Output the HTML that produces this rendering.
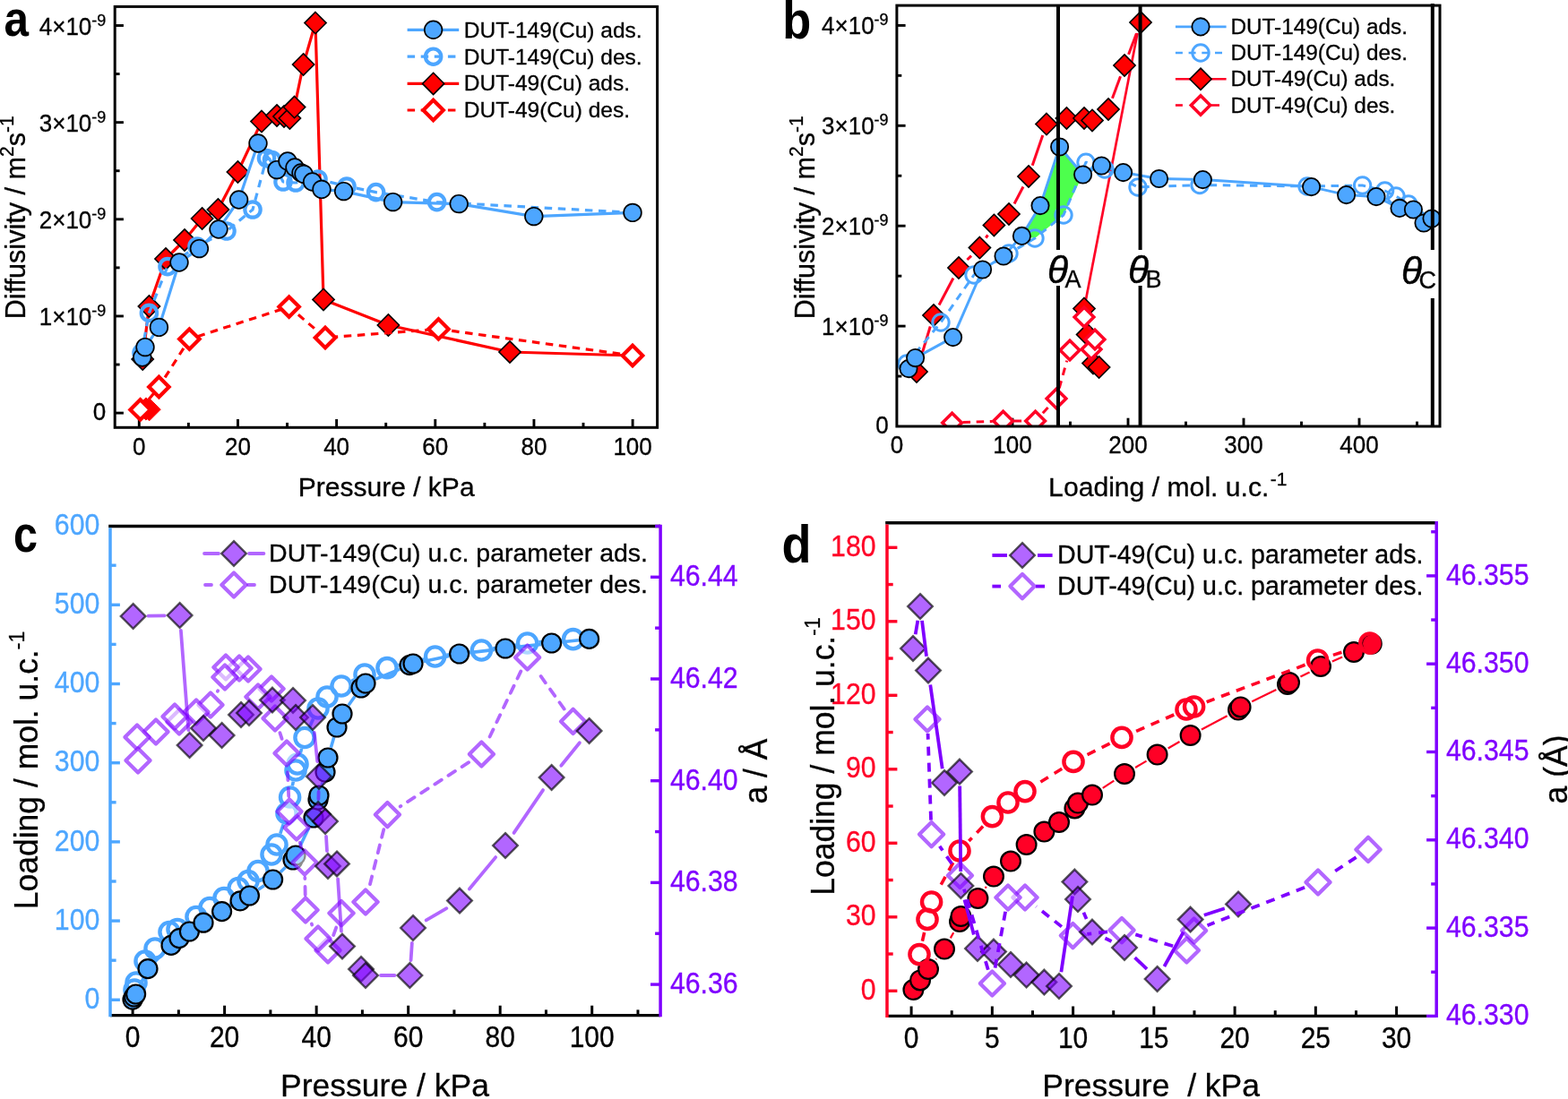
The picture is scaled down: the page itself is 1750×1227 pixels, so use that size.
<!DOCTYPE html>
<html lang="en">
<head>
<meta charset="utf-8">
<title>Diffusivity and loading of DUT-149(Cu) and DUT-49(Cu)</title>
<style>
html,body{margin:0;padding:0;background:#fff;}
body{width:1750px;height:1227px;overflow:hidden;}
svg{display:block;font-family:"Liberation Sans", Arial, Helvetica, sans-serif;}
text{white-space:pre;}
</style>
</head>
<body>
<svg width="1750" height="1227" viewBox="0 0 1750 1227">
<rect x="0" y="0" width="1750" height="1227" fill="#ffffff"/>
<g id="panel-a">
<line x1="128.2" y1="461.1" x2="137.9" y2="461.1" stroke="#000" stroke-width="2.9" />
<line x1="128.2" y1="407.03" x2="133.6" y2="407.03" stroke="#000" stroke-width="2.9" />
<line x1="128.2" y1="352.95" x2="137.9" y2="352.95" stroke="#000" stroke-width="2.9" />
<line x1="128.2" y1="298.88" x2="133.6" y2="298.88" stroke="#000" stroke-width="2.9" />
<line x1="128.2" y1="244.8" x2="137.9" y2="244.8" stroke="#000" stroke-width="2.9" />
<line x1="128.2" y1="190.73" x2="133.6" y2="190.73" stroke="#000" stroke-width="2.9" />
<line x1="128.2" y1="136.65" x2="137.9" y2="136.65" stroke="#000" stroke-width="2.9" />
<line x1="128.2" y1="82.57" x2="133.6" y2="82.57" stroke="#000" stroke-width="2.9" />
<line x1="128.2" y1="28.5" x2="137.9" y2="28.5" stroke="#000" stroke-width="2.9" />
<line x1="155.3" y1="477.3" x2="155.3" y2="468" stroke="#000" stroke-width="2.9" />
<line x1="210.38" y1="477.3" x2="210.38" y2="471.9" stroke="#000" stroke-width="2.9" />
<line x1="265.46" y1="477.3" x2="265.46" y2="468" stroke="#000" stroke-width="2.9" />
<line x1="320.54" y1="477.3" x2="320.54" y2="471.9" stroke="#000" stroke-width="2.9" />
<line x1="375.62" y1="477.3" x2="375.62" y2="468" stroke="#000" stroke-width="2.9" />
<line x1="430.7" y1="477.3" x2="430.7" y2="471.9" stroke="#000" stroke-width="2.9" />
<line x1="485.78" y1="477.3" x2="485.78" y2="468" stroke="#000" stroke-width="2.9" />
<line x1="540.86" y1="477.3" x2="540.86" y2="471.9" stroke="#000" stroke-width="2.9" />
<line x1="595.94" y1="477.3" x2="595.94" y2="468" stroke="#000" stroke-width="2.9" />
<line x1="651.02" y1="477.3" x2="651.02" y2="471.9" stroke="#000" stroke-width="2.9" />
<line x1="706.1" y1="477.3" x2="706.1" y2="468" stroke="#000" stroke-width="2.9" />
<rect x="128.2" y="7.4" width="605.4" height="469.9" fill="none" stroke="#000" stroke-width="3.0"/>
<text transform="translate(118.3 469.1) scale(1 1.04)" font-size="26" fill="#000" text-anchor="end" stroke="#000" stroke-width="0.3" >0</text>
<text transform="translate(118.3 363.35) scale(1 1.04)" font-size="26" fill="#000" text-anchor="end" stroke="#000" stroke-width="0.3" >1×10<tspan font-size="18" dy="-10">-9</tspan></text>
<text transform="translate(118.3 255.2) scale(1 1.04)" font-size="26" fill="#000" text-anchor="end" stroke="#000" stroke-width="0.3" >2×10<tspan font-size="18" dy="-10">-9</tspan></text>
<text transform="translate(118.3 147.05) scale(1 1.04)" font-size="26" fill="#000" text-anchor="end" stroke="#000" stroke-width="0.3" >3×10<tspan font-size="18" dy="-10">-9</tspan></text>
<text transform="translate(118.3 38.9) scale(1 1.04)" font-size="26" fill="#000" text-anchor="end" stroke="#000" stroke-width="0.3" >4×10<tspan font-size="18" dy="-10">-9</tspan></text>
<text transform="translate(155.3 507.5) scale(1 1.04)" font-size="26" fill="#000" text-anchor="middle" stroke="#000" stroke-width="0.3" >0</text>
<text transform="translate(265.46 507.5) scale(1 1.04)" font-size="26" fill="#000" text-anchor="middle" stroke="#000" stroke-width="0.3" >20</text>
<text transform="translate(375.62 507.5) scale(1 1.04)" font-size="26" fill="#000" text-anchor="middle" stroke="#000" stroke-width="0.3" >40</text>
<text transform="translate(485.78 507.5) scale(1 1.04)" font-size="26" fill="#000" text-anchor="middle" stroke="#000" stroke-width="0.3" >60</text>
<text transform="translate(595.94 507.5) scale(1 1.04)" font-size="26" fill="#000" text-anchor="middle" stroke="#000" stroke-width="0.3" >80</text>
<text transform="translate(706.1 507.5) scale(1 1.04)" font-size="26" fill="#000" text-anchor="middle" stroke="#000" stroke-width="0.3" >100</text>
<text transform="translate(431.2 553.6) scale(1 1.0)" font-size="30" fill="#000" text-anchor="middle" stroke="#000" stroke-width="0.3" >Pressure / kPa</text>
<text transform="translate(27.9 242.8) rotate(-90) scale(1 1.05)" font-size="30.6" fill="#000" text-anchor="middle" stroke="#000" stroke-width="0.3" >Diffusivity / m<tspan font-size="21" dy="-12">2</tspan><tspan dy="12">s</tspan><tspan font-size="21" dy="-12">-1</tspan></text>
<text x="4.5" y="40" font-size="56" font-weight="bold" textLength="27.5" lengthAdjust="spacingAndGlyphs">a</text>
<polyline points="159.2,401 166.4,342 185,289 206,268 225.6,244 243.4,234 265.4,192 292,135.6 309,129 317,130 323.4,132 328.6,119.6 338.6,72 352,25.6 361,334.4 433.4,363 569,393 706,397" fill="none" stroke="#ff0000" stroke-width="3.2" stroke-linecap="butt" stroke-linejoin="round"/>
<polygon points="159.2,388.9 171.3,401 159.2,413.1 147.1,401" fill="#ff0000" stroke="#000" stroke-width="1.6" stroke-linejoin="miter"/>
<polygon points="166.4,329.9 178.5,342 166.4,354.1 154.3,342" fill="#ff0000" stroke="#000" stroke-width="1.6" stroke-linejoin="miter"/>
<polygon points="185,276.9 197.1,289 185,301.1 172.9,289" fill="#ff0000" stroke="#000" stroke-width="1.6" stroke-linejoin="miter"/>
<polygon points="206,255.9 218.1,268 206,280.1 193.9,268" fill="#ff0000" stroke="#000" stroke-width="1.6" stroke-linejoin="miter"/>
<polygon points="225.6,231.9 237.7,244 225.6,256.1 213.5,244" fill="#ff0000" stroke="#000" stroke-width="1.6" stroke-linejoin="miter"/>
<polygon points="243.4,221.9 255.5,234 243.4,246.1 231.3,234" fill="#ff0000" stroke="#000" stroke-width="1.6" stroke-linejoin="miter"/>
<polygon points="265.4,179.9 277.5,192 265.4,204.1 253.3,192" fill="#ff0000" stroke="#000" stroke-width="1.6" stroke-linejoin="miter"/>
<polygon points="292,123.5 304.1,135.6 292,147.7 279.9,135.6" fill="#ff0000" stroke="#000" stroke-width="1.6" stroke-linejoin="miter"/>
<polygon points="309,116.9 321.1,129 309,141.1 296.9,129" fill="#ff0000" stroke="#000" stroke-width="1.6" stroke-linejoin="miter"/>
<polygon points="317,117.9 329.1,130 317,142.1 304.9,130" fill="#ff0000" stroke="#000" stroke-width="1.6" stroke-linejoin="miter"/>
<polygon points="323.4,119.9 335.5,132 323.4,144.1 311.3,132" fill="#ff0000" stroke="#000" stroke-width="1.6" stroke-linejoin="miter"/>
<polygon points="328.6,107.5 340.7,119.6 328.6,131.7 316.5,119.6" fill="#ff0000" stroke="#000" stroke-width="1.6" stroke-linejoin="miter"/>
<polygon points="338.6,59.9 350.7,72 338.6,84.1 326.5,72" fill="#ff0000" stroke="#000" stroke-width="1.6" stroke-linejoin="miter"/>
<polygon points="352,13.5 364.1,25.6 352,37.7 339.9,25.6" fill="#ff0000" stroke="#000" stroke-width="1.6" stroke-linejoin="miter"/>
<polygon points="361,322.3 373.1,334.4 361,346.5 348.9,334.4" fill="#ff0000" stroke="#000" stroke-width="1.6" stroke-linejoin="miter"/>
<polygon points="433.4,350.9 445.5,363 433.4,375.1 421.3,363" fill="#ff0000" stroke="#000" stroke-width="1.6" stroke-linejoin="miter"/>
<polygon points="569,380.9 581.1,393 569,405.1 556.9,393" fill="#ff0000" stroke="#000" stroke-width="1.6" stroke-linejoin="miter"/>
<polyline points="156.6,457.4 177.4,432 211.4,378.6 322.6,342.6 363,377 489.4,367.4 706,397" fill="none" stroke="#ff0000" stroke-width="3.2" stroke-linecap="butt" stroke-linejoin="round" stroke-dasharray="8.5 6.6"/>
<polygon points="166.6,444.6 179.2,457.2 166.6,469.8 154,457.2" fill="#ff0000" stroke="#ff0000" stroke-width="1" stroke-linejoin="miter"/>
<polygon points="163,443.9 175.6,456.5 163,469.1 150.4,456.5" fill="#ff0000" stroke="#ff0000" stroke-width="1" stroke-linejoin="miter"/>
<polygon points="156.6,446.2 167.8,457.4 156.6,468.6 145.4,457.4" fill="#fff" stroke="#ff0000" stroke-width="4.2" stroke-linejoin="miter"/>
<polygon points="177.4,420.8 188.6,432 177.4,443.2 166.2,432" fill="#fff" stroke="#ff0000" stroke-width="4.2" stroke-linejoin="miter"/>
<polygon points="211.4,367.4 222.6,378.6 211.4,389.8 200.2,378.6" fill="#fff" stroke="#ff0000" stroke-width="4.2" stroke-linejoin="miter"/>
<polygon points="322.6,331.4 333.8,342.6 322.6,353.8 311.4,342.6" fill="#fff" stroke="#ff0000" stroke-width="4.2" stroke-linejoin="miter"/>
<polygon points="363,365.8 374.2,377 363,388.2 351.8,377" fill="#fff" stroke="#ff0000" stroke-width="4.2" stroke-linejoin="miter"/>
<polygon points="489.4,356.2 500.6,367.4 489.4,378.6 478.2,367.4" fill="#fff" stroke="#ff0000" stroke-width="4.2" stroke-linejoin="miter"/>
<polygon points="706,385.8 717.2,397 706,408.2 694.8,397" fill="#fff" stroke="#ff0000" stroke-width="4.2" stroke-linejoin="miter"/>
<polyline points="158,394 166.4,349.4 187,297.6 220,275 253,258 282,234 297.5,176.5 303.5,178.5 316,203 330,204 355,200 387,208 419.6,214.6 487.6,225.6 706,237.4" fill="none" stroke="#4da6ff" stroke-width="3.2" stroke-linecap="butt" stroke-linejoin="round" stroke-dasharray="8.5 6.6"/>
<circle cx="158" cy="394" r="8.7" fill="none" stroke="#4da6ff" stroke-width="4.2"/>
<circle cx="166.4" cy="349.4" r="8.7" fill="none" stroke="#4da6ff" stroke-width="4.2"/>
<circle cx="187" cy="297.6" r="8.7" fill="none" stroke="#4da6ff" stroke-width="4.2"/>
<circle cx="220" cy="275" r="8.7" fill="none" stroke="#4da6ff" stroke-width="4.2"/>
<circle cx="253" cy="258" r="8.7" fill="none" stroke="#4da6ff" stroke-width="4.2"/>
<circle cx="282" cy="234" r="8.7" fill="none" stroke="#4da6ff" stroke-width="4.2"/>
<circle cx="297.5" cy="176.5" r="8.7" fill="none" stroke="#4da6ff" stroke-width="4.2"/>
<circle cx="303.5" cy="178.5" r="8.7" fill="none" stroke="#4da6ff" stroke-width="4.2"/>
<circle cx="316" cy="203" r="8.7" fill="none" stroke="#4da6ff" stroke-width="4.2"/>
<circle cx="330" cy="204" r="8.7" fill="none" stroke="#4da6ff" stroke-width="4.2"/>
<circle cx="355" cy="200" r="8.7" fill="none" stroke="#4da6ff" stroke-width="4.2"/>
<circle cx="387" cy="208" r="8.7" fill="none" stroke="#4da6ff" stroke-width="4.2"/>
<circle cx="419.6" cy="214.6" r="8.7" fill="none" stroke="#4da6ff" stroke-width="4.2"/>
<circle cx="487.6" cy="225.6" r="8.7" fill="none" stroke="#4da6ff" stroke-width="4.2"/>
<polyline points="158.8,399 162,387.6 177.4,365.4 200,293 222.4,277.6 244,256 266.6,223 288,160 309,189.6 321,180 329,187 336,193 339,194.4 348.6,203 359,211.4 383.6,213.6 438.6,225.6 512.2,227.6 595.8,241.6 706,237.4" fill="none" stroke="#4da6ff" stroke-width="3.2" stroke-linecap="butt" stroke-linejoin="round"/>
<circle cx="158.8" cy="399" r="9.85" fill="#4da6ff" stroke="#000" stroke-width="1.7"/>
<circle cx="162" cy="387.6" r="9.85" fill="#4da6ff" stroke="#000" stroke-width="1.7"/>
<circle cx="177.4" cy="365.4" r="9.85" fill="#4da6ff" stroke="#000" stroke-width="1.7"/>
<circle cx="200" cy="293" r="9.85" fill="#4da6ff" stroke="#000" stroke-width="1.7"/>
<circle cx="222.4" cy="277.6" r="9.85" fill="#4da6ff" stroke="#000" stroke-width="1.7"/>
<circle cx="244" cy="256" r="9.85" fill="#4da6ff" stroke="#000" stroke-width="1.7"/>
<circle cx="266.6" cy="223" r="9.85" fill="#4da6ff" stroke="#000" stroke-width="1.7"/>
<circle cx="288" cy="160" r="9.85" fill="#4da6ff" stroke="#000" stroke-width="1.7"/>
<circle cx="309" cy="189.6" r="9.85" fill="#4da6ff" stroke="#000" stroke-width="1.7"/>
<circle cx="321" cy="180" r="9.85" fill="#4da6ff" stroke="#000" stroke-width="1.7"/>
<circle cx="329" cy="187" r="9.85" fill="#4da6ff" stroke="#000" stroke-width="1.7"/>
<circle cx="336" cy="193" r="9.85" fill="#4da6ff" stroke="#000" stroke-width="1.7"/>
<circle cx="339" cy="194.4" r="9.85" fill="#4da6ff" stroke="#000" stroke-width="1.7"/>
<circle cx="348.6" cy="203" r="9.85" fill="#4da6ff" stroke="#000" stroke-width="1.7"/>
<circle cx="359" cy="211.4" r="9.85" fill="#4da6ff" stroke="#000" stroke-width="1.7"/>
<circle cx="383.6" cy="213.6" r="9.85" fill="#4da6ff" stroke="#000" stroke-width="1.7"/>
<circle cx="438.6" cy="225.6" r="9.85" fill="#4da6ff" stroke="#000" stroke-width="1.7"/>
<circle cx="512.2" cy="227.6" r="9.85" fill="#4da6ff" stroke="#000" stroke-width="1.7"/>
<circle cx="595.8" cy="241.6" r="9.85" fill="#4da6ff" stroke="#000" stroke-width="1.7"/>
<circle cx="706" cy="237.4" r="9.85" fill="#4da6ff" stroke="#000" stroke-width="1.7"/>
<line x1="454.6" y1="33.3" x2="512.2" y2="33.3" stroke="#4da6ff" stroke-width="3.2" />
<circle cx="483.6" cy="33.3" r="9.85" fill="#4da6ff" stroke="#000" stroke-width="1.7"/>
<line x1="454.6" y1="63.2" x2="512.2" y2="63.2" stroke="#4da6ff" stroke-width="3.2" stroke-dasharray="8.5 6.6"/>
<circle cx="483.6" cy="63.2" r="8.7" fill="none" stroke="#4da6ff" stroke-width="4.2"/>
<line x1="454.6" y1="93.4" x2="512.2" y2="93.4" stroke="#ff0000" stroke-width="3.2" />
<polygon points="483.6,81.3 495.7,93.4 483.6,105.5 471.5,93.4" fill="#ff0000" stroke="#000" stroke-width="1.6" stroke-linejoin="miter"/>
<line x1="454.6" y1="123" x2="512.2" y2="123" stroke="#ff0000" stroke-width="3.2" stroke-dasharray="8.5 6.6"/>
<polygon points="483.6,111.8 494.8,123 483.6,134.2 472.4,123" fill="#fff" stroke="#ff0000" stroke-width="4.2" stroke-linejoin="miter"/>
<text transform="translate(517.8 41.8) scale(1 1.0)" font-size="24.5" fill="#000" text-anchor="start" stroke="#000" stroke-width="0.3" >DUT-149(Cu) ads.</text>
<text transform="translate(517.8 71.8) scale(1 1.0)" font-size="24.5" fill="#000" text-anchor="start" stroke="#000" stroke-width="0.3" >DUT-149(Cu) des.</text>
<text transform="translate(517.8 101.3) scale(1 1.0)" font-size="24.5" fill="#000" text-anchor="start" stroke="#000" stroke-width="0.3" >DUT-49(Cu) ads.</text>
<text transform="translate(517.8 131) scale(1 1.0)" font-size="24.5" fill="#000" text-anchor="start" stroke="#000" stroke-width="0.3" >DUT-49(Cu) des.</text>
</g>
<g id="panel-b">
<clipPath id="clipb"><rect x="1000.9" y="6.1" width="606.1" height="469.9"/></clipPath>
<line x1="1000.9" y1="420.05" x2="1006.3" y2="420.05" stroke="#000" stroke-width="2.9" />
<line x1="1000.9" y1="364.1" x2="1010.6" y2="364.1" stroke="#000" stroke-width="2.9" />
<line x1="1000.9" y1="308.15" x2="1006.3" y2="308.15" stroke="#000" stroke-width="2.9" />
<line x1="1000.9" y1="252.2" x2="1010.6" y2="252.2" stroke="#000" stroke-width="2.9" />
<line x1="1000.9" y1="196.25" x2="1006.3" y2="196.25" stroke="#000" stroke-width="2.9" />
<line x1="1000.9" y1="140.3" x2="1010.6" y2="140.3" stroke="#000" stroke-width="2.9" />
<line x1="1000.9" y1="84.35" x2="1006.3" y2="84.35" stroke="#000" stroke-width="2.9" />
<line x1="1000.9" y1="28.4" x2="1010.6" y2="28.4" stroke="#000" stroke-width="2.9" />
<line x1="1065.5" y1="476" x2="1065.5" y2="470.6" stroke="#000" stroke-width="2.9" />
<line x1="1130" y1="476" x2="1130" y2="466.7" stroke="#000" stroke-width="2.9" />
<line x1="1194.5" y1="476" x2="1194.5" y2="470.6" stroke="#000" stroke-width="2.9" />
<line x1="1259" y1="476" x2="1259" y2="466.7" stroke="#000" stroke-width="2.9" />
<line x1="1323.5" y1="476" x2="1323.5" y2="470.6" stroke="#000" stroke-width="2.9" />
<line x1="1388" y1="476" x2="1388" y2="466.7" stroke="#000" stroke-width="2.9" />
<line x1="1452.5" y1="476" x2="1452.5" y2="470.6" stroke="#000" stroke-width="2.9" />
<line x1="1517" y1="476" x2="1517" y2="466.7" stroke="#000" stroke-width="2.9" />
<line x1="1581.5" y1="476" x2="1581.5" y2="470.6" stroke="#000" stroke-width="2.9" />
<text transform="translate(991.6 484) scale(1 1.04)" font-size="26" fill="#000" text-anchor="end" stroke="#000" stroke-width="0.3" >0</text>
<text transform="translate(991.6 374.1) scale(1 1.04)" font-size="26" fill="#000" text-anchor="end" stroke="#000" stroke-width="0.3" >1×10<tspan font-size="18" dy="-10">-9</tspan></text>
<text transform="translate(991.6 262.2) scale(1 1.04)" font-size="26" fill="#000" text-anchor="end" stroke="#000" stroke-width="0.3" >2×10<tspan font-size="18" dy="-10">-9</tspan></text>
<text transform="translate(991.6 150.3) scale(1 1.04)" font-size="26" fill="#000" text-anchor="end" stroke="#000" stroke-width="0.3" >3×10<tspan font-size="18" dy="-10">-9</tspan></text>
<text transform="translate(991.6 38.4) scale(1 1.04)" font-size="26" fill="#000" text-anchor="end" stroke="#000" stroke-width="0.3" >4×10<tspan font-size="18" dy="-10">-9</tspan></text>
<text transform="translate(1001 505.8) scale(1 1.04)" font-size="26" fill="#000" text-anchor="middle" stroke="#000" stroke-width="0.3" >0</text>
<text transform="translate(1130 505.8) scale(1 1.04)" font-size="26" fill="#000" text-anchor="middle" stroke="#000" stroke-width="0.3" >100</text>
<text transform="translate(1259 505.8) scale(1 1.04)" font-size="26" fill="#000" text-anchor="middle" stroke="#000" stroke-width="0.3" >200</text>
<text transform="translate(1388 505.8) scale(1 1.04)" font-size="26" fill="#000" text-anchor="middle" stroke="#000" stroke-width="0.3" >300</text>
<text transform="translate(1517 505.8) scale(1 1.04)" font-size="26" fill="#000" text-anchor="middle" stroke="#000" stroke-width="0.3" >400</text>
<text transform="translate(1303.3 554) scale(1 1.0)" font-size="30.15" fill="#000" text-anchor="middle" stroke="#000" stroke-width="0.3" >Loading / mol. u.c.<tspan font-size="21" dy="-12" dx="1.4">-1</tspan></text>
<text transform="translate(908.5 242.8) rotate(-90) scale(1 1.05)" font-size="30.6" fill="#000" text-anchor="middle" stroke="#000" stroke-width="0.3" >Diffusivity / m<tspan font-size="21" dy="-12">2</tspan><tspan dy="12">s</tspan><tspan font-size="21" dy="-12">-1</tspan></text>
<text x="873.3" y="43.3" font-size="60" font-weight="bold" textLength="32" lengthAdjust="spacingAndGlyphs">b</text>
<g clip-path="url(#clipb)">
<polygon points="1140.4,263.4 1161,229.6 1182.6,164 1208.6,195 1199,215 1187,240 1155,266" fill="#4dff4d"/>
<line x1="1026.75" y1="402.55" x2="1038.25" y2="364.45" stroke="#ff0026" stroke-width="3" stroke-linecap="butt"/>
<line x1="1048.07" y1="340.51" x2="1063.93" y2="310.49" stroke="#ff0026" stroke-width="3" stroke-linecap="butt"/>
<line x1="1079.39" y1="290.01" x2="1084.01" y2="285.59" stroke="#ff0026" stroke-width="3" stroke-linecap="butt"/>
<line x1="1100.37" y1="265.63" x2="1102.43" y2="262.37" stroke="#ff0026" stroke-width="3" stroke-linecap="butt"/>
<line x1="1132.03" y1="227.48" x2="1141.97" y2="208.52" stroke="#ff0026" stroke-width="3" stroke-linecap="butt"/>
<line x1="1152.21" y1="184.7" x2="1163.79" y2="150.9" stroke="#ff0026" stroke-width="3" stroke-linecap="butt"/>
<line x1="1241.48" y1="109.8" x2="1250.52" y2="85.2" stroke="#ff0026" stroke-width="3" stroke-linecap="butt"/>
<line x1="1259.56" y1="60.83" x2="1268.44" y2="37.17" stroke="#ff0026" stroke-width="3" stroke-linecap="butt"/>
<polyline points="1269.5,37 1210,344.6" fill="none" stroke="#ff0026" stroke-width="2.7" stroke-linecap="butt" stroke-linejoin="round"/>
<polyline points="1210,344.6 1213.6,373.6 1220,405.6 1226.6,410" fill="none" stroke="#ff0026" stroke-width="2.7" stroke-linecap="butt" stroke-linejoin="round"/>
<polygon points="1023,402.9 1035.1,415 1023,427.1 1010.9,415" fill="#ff0000" stroke="#000" stroke-width="1.6" stroke-linejoin="miter"/>
<polygon points="1042,339.9 1054.1,352 1042,364.1 1029.9,352" fill="#ff0000" stroke="#000" stroke-width="1.6" stroke-linejoin="miter"/>
<polygon points="1070,286.9 1082.1,299 1070,311.1 1057.9,299" fill="#ff0000" stroke="#000" stroke-width="1.6" stroke-linejoin="miter"/>
<polygon points="1093.4,264.5 1105.5,276.6 1093.4,288.7 1081.3,276.6" fill="#ff0000" stroke="#000" stroke-width="1.6" stroke-linejoin="miter"/>
<polygon points="1109.4,239.3 1121.5,251.4 1109.4,263.5 1097.3,251.4" fill="#ff0000" stroke="#000" stroke-width="1.6" stroke-linejoin="miter"/>
<polygon points="1126,226.9 1138.1,239 1126,251.1 1113.9,239" fill="#ff0000" stroke="#000" stroke-width="1.6" stroke-linejoin="miter"/>
<polygon points="1148,184.9 1160.1,197 1148,209.1 1135.9,197" fill="#ff0000" stroke="#000" stroke-width="1.6" stroke-linejoin="miter"/>
<polygon points="1168,126.5 1180.1,138.6 1168,150.7 1155.9,138.6" fill="#ff0000" stroke="#000" stroke-width="1.6" stroke-linejoin="miter"/>
<polygon points="1190.4,119.9 1202.5,132 1190.4,144.1 1178.3,132" fill="#ff0000" stroke="#000" stroke-width="1.6" stroke-linejoin="miter"/>
<polygon points="1210,119.9 1222.1,132 1210,144.1 1197.9,132" fill="#ff0000" stroke="#000" stroke-width="1.6" stroke-linejoin="miter"/>
<polygon points="1219,122.3 1231.1,134.4 1219,146.5 1206.9,134.4" fill="#ff0000" stroke="#000" stroke-width="1.6" stroke-linejoin="miter"/>
<polygon points="1237,109.9 1249.1,122 1237,134.1 1224.9,122" fill="#ff0000" stroke="#000" stroke-width="1.6" stroke-linejoin="miter"/>
<polygon points="1255,60.9 1267.1,73 1255,85.1 1242.9,73" fill="#ff0000" stroke="#000" stroke-width="1.6" stroke-linejoin="miter"/>
<polygon points="1273,12.9 1285.1,25 1273,37.1 1260.9,25" fill="#ff0000" stroke="#000" stroke-width="1.6" stroke-linejoin="miter"/>
<polygon points="1210,332.5 1222.1,344.6 1210,356.7 1197.9,344.6" fill="#ff0000" stroke="#000" stroke-width="1.6" stroke-linejoin="miter"/>
<polygon points="1213.6,361.5 1225.7,373.6 1213.6,385.7 1201.5,373.6" fill="#ff0000" stroke="#000" stroke-width="1.6" stroke-linejoin="miter"/>
<polygon points="1220,393.5 1232.1,405.6 1220,417.7 1207.9,405.6" fill="#ff0000" stroke="#000" stroke-width="1.6" stroke-linejoin="miter"/>
<polygon points="1226.6,397.9 1238.7,410 1226.6,422.1 1214.5,410" fill="#ff0000" stroke="#000" stroke-width="1.6" stroke-linejoin="miter"/>
<line x1="1074.59" y1="471.58" x2="1107.61" y2="470.42" stroke="#ff0026" stroke-width="3" stroke-linecap="butt" stroke-dasharray="8.5 6.6"/>
<line x1="1131.6" y1="470" x2="1143.6" y2="470" stroke="#ff0026" stroke-width="3" stroke-linecap="butt" stroke-dasharray="8.5 6.6"/>
<line x1="1163.8" y1="461.24" x2="1170.8" y2="453.76" stroke="#ff0026" stroke-width="3" stroke-linecap="butt" stroke-dasharray="8.5 6.6"/>
<line x1="1182.21" y1="433.44" x2="1190.79" y2="402.56" stroke="#ff0026" stroke-width="3" stroke-linecap="butt" stroke-dasharray="8.5 6.6"/>
<line x1="1216.81" y1="368.18" x2="1215.19" y2="364.82" stroke="#ff0026" stroke-width="3" stroke-linecap="butt" stroke-dasharray="8.5 6.6"/>
<polygon points="1062.6,461.2 1073.4,472 1062.6,482.8 1051.8,472" fill="#fff" stroke="#ff0026" stroke-width="3.6" stroke-linejoin="miter"/>
<polygon points="1119.6,459.2 1130.4,470 1119.6,480.8 1108.8,470" fill="#fff" stroke="#ff0026" stroke-width="3.6" stroke-linejoin="miter"/>
<polygon points="1155.6,459.2 1166.4,470 1155.6,480.8 1144.8,470" fill="#fff" stroke="#ff0026" stroke-width="3.6" stroke-linejoin="miter"/>
<polygon points="1179,434.2 1189.8,445 1179,455.8 1168.2,445" fill="#fff" stroke="#ff0026" stroke-width="3.6" stroke-linejoin="miter"/>
<polygon points="1194,380.2 1204.8,391 1194,401.8 1183.2,391" fill="#fff" stroke="#ff0026" stroke-width="3.6" stroke-linejoin="miter"/>
<polygon points="1218,379.2 1228.8,390 1218,400.8 1207.2,390" fill="#fff" stroke="#ff0026" stroke-width="3.6" stroke-linejoin="miter"/>
<polygon points="1222,368.2 1232.8,379 1222,389.8 1211.2,379" fill="#fff" stroke="#ff0026" stroke-width="3.6" stroke-linejoin="miter"/>
<polygon points="1210,343.2 1220.8,354 1210,364.8 1199.2,354" fill="#fff" stroke="#ff0026" stroke-width="3.6" stroke-linejoin="miter"/>
<polyline points="1012,406 1050,360 1087,307 1126,283 1155,266 1187,240 1212,181.2 1233,189 1270,209 1339,206.5 1459,208 1520.6,207 1545.6,213 1558,219 1572,228 1598,244" fill="none" stroke="#4da6ff" stroke-width="3" stroke-linecap="butt" stroke-linejoin="round" stroke-dasharray="8.5 6.6"/>
<circle cx="1012" cy="406" r="9.2" fill="none" stroke="#4da6ff" stroke-width="3"/>
<circle cx="1050" cy="360" r="9.2" fill="none" stroke="#4da6ff" stroke-width="3"/>
<circle cx="1087" cy="307" r="9.2" fill="none" stroke="#4da6ff" stroke-width="3"/>
<circle cx="1126" cy="283" r="9.2" fill="none" stroke="#4da6ff" stroke-width="3"/>
<circle cx="1155" cy="266" r="9.2" fill="none" stroke="#4da6ff" stroke-width="3"/>
<circle cx="1187" cy="240" r="9.2" fill="none" stroke="#4da6ff" stroke-width="3"/>
<circle cx="1212" cy="181.2" r="9.2" fill="none" stroke="#4da6ff" stroke-width="3"/>
<circle cx="1233" cy="189" r="9.2" fill="none" stroke="#4da6ff" stroke-width="3"/>
<circle cx="1270" cy="209" r="9.2" fill="none" stroke="#4da6ff" stroke-width="3"/>
<circle cx="1339" cy="206.5" r="9.2" fill="none" stroke="#4da6ff" stroke-width="3"/>
<circle cx="1459" cy="208" r="9.2" fill="none" stroke="#4da6ff" stroke-width="3"/>
<circle cx="1520.6" cy="207" r="9.2" fill="none" stroke="#4da6ff" stroke-width="3"/>
<circle cx="1545.6" cy="213" r="9.2" fill="none" stroke="#4da6ff" stroke-width="3"/>
<circle cx="1558" cy="219" r="9.2" fill="none" stroke="#4da6ff" stroke-width="3"/>
<circle cx="1572" cy="228" r="9.2" fill="none" stroke="#4da6ff" stroke-width="3"/>
<polyline points="1014,411.6 1021.6,399.6 1063.6,376.6 1096.6,301 1120,286 1140.4,263.4 1161,229.6 1182.6,164 1208.6,195 1229.4,185 1253.6,192.6 1293.6,199.5 1342.4,200.6 1463.6,208.6 1502.6,217.6 1536,219.6 1562,232.4 1577.4,234 1589,249 1598,244" fill="none" stroke="#4da6ff" stroke-width="3" stroke-linecap="butt" stroke-linejoin="round"/>
<circle cx="1014" cy="411.6" r="9.65" fill="#4da6ff" stroke="#000" stroke-width="1.8"/>
<circle cx="1021.6" cy="399.6" r="9.65" fill="#4da6ff" stroke="#000" stroke-width="1.8"/>
<circle cx="1063.6" cy="376.6" r="9.65" fill="#4da6ff" stroke="#000" stroke-width="1.8"/>
<circle cx="1096.6" cy="301" r="9.65" fill="#4da6ff" stroke="#000" stroke-width="1.8"/>
<circle cx="1120" cy="286" r="9.65" fill="#4da6ff" stroke="#000" stroke-width="1.8"/>
<circle cx="1140.4" cy="263.4" r="9.65" fill="#4da6ff" stroke="#000" stroke-width="1.8"/>
<circle cx="1161" cy="229.6" r="9.65" fill="#4da6ff" stroke="#000" stroke-width="1.8"/>
<circle cx="1182.6" cy="164" r="9.65" fill="#4da6ff" stroke="#000" stroke-width="1.8"/>
<circle cx="1208.6" cy="195" r="9.65" fill="#4da6ff" stroke="#000" stroke-width="1.8"/>
<circle cx="1229.4" cy="185" r="9.65" fill="#4da6ff" stroke="#000" stroke-width="1.8"/>
<circle cx="1253.6" cy="192.6" r="9.65" fill="#4da6ff" stroke="#000" stroke-width="1.8"/>
<circle cx="1293.6" cy="199.5" r="9.65" fill="#4da6ff" stroke="#000" stroke-width="1.8"/>
<circle cx="1342.4" cy="200.6" r="9.65" fill="#4da6ff" stroke="#000" stroke-width="1.8"/>
<circle cx="1463.6" cy="208.6" r="9.65" fill="#4da6ff" stroke="#000" stroke-width="1.8"/>
<circle cx="1502.6" cy="217.6" r="9.65" fill="#4da6ff" stroke="#000" stroke-width="1.8"/>
<circle cx="1536" cy="219.6" r="9.65" fill="#4da6ff" stroke="#000" stroke-width="1.8"/>
<circle cx="1562" cy="232.4" r="9.65" fill="#4da6ff" stroke="#000" stroke-width="1.8"/>
<circle cx="1577.4" cy="234" r="9.65" fill="#4da6ff" stroke="#000" stroke-width="1.8"/>
<circle cx="1589" cy="249" r="9.65" fill="#4da6ff" stroke="#000" stroke-width="1.8"/>
<circle cx="1598" cy="244" r="9.65" fill="#4da6ff" stroke="#000" stroke-width="1.8"/>
</g>
<rect x="1000.9" y="6.1" width="606.1" height="469.9" fill="none" stroke="#000" stroke-width="3"/>
<line x1="1181" y1="6.1" x2="1181" y2="279" stroke="#000" stroke-width="4" />
<line x1="1181" y1="319" x2="1181" y2="476" stroke="#000" stroke-width="4" />
<line x1="1272.6" y1="6.1" x2="1272.6" y2="279" stroke="#000" stroke-width="4" />
<line x1="1272.6" y1="319" x2="1272.6" y2="476" stroke="#000" stroke-width="4" />
<line x1="1598.8" y1="3.9" x2="1598.8" y2="279" stroke="#000" stroke-width="4" />
<line x1="1598.8" y1="333" x2="1598.8" y2="476" stroke="#000" stroke-width="4" />
<text x="1169" y="316" font-size="42.5" stroke="#000" stroke-width="0.5"><tspan font-style="italic">θ</tspan><tspan font-size="27" dy="4.5" dx="-3.5" stroke-width="0.3">A</tspan></text>
<text x="1259" y="316" font-size="42.5" stroke="#000" stroke-width="0.5"><tspan font-style="italic">θ</tspan><tspan font-size="27" dy="4.5" dx="-3.5" stroke-width="0.3">B</tspan></text>
<text x="1564" y="317" font-size="42.5" stroke="#000" stroke-width="0.5"><tspan font-style="italic">θ</tspan><tspan font-size="27" dy="4.5" dx="-3.5" stroke-width="0.3">C</tspan></text>
<line x1="1311.9" y1="29.9" x2="1368.6" y2="29.9" stroke="#4da6ff" stroke-width="2.6" />
<circle cx="1340" cy="29.9" r="9.65" fill="#4da6ff" stroke="#000" stroke-width="1.8"/>
<line x1="1311.9" y1="59" x2="1368.6" y2="59" stroke="#4da6ff" stroke-width="2.6" stroke-dasharray="8 6.7"/>
<circle cx="1340" cy="59" r="9.2" fill="none" stroke="#4da6ff" stroke-width="3"/>
<line x1="1311.9" y1="88.2" x2="1368.6" y2="88.2" stroke="#ff0026" stroke-width="2.6" />
<polygon points="1340,76.1 1352.1,88.2 1340,100.3 1327.9,88.2" fill="#ff0000" stroke="#000" stroke-width="1.6" stroke-linejoin="miter"/>
<line x1="1311.9" y1="117.5" x2="1319.9" y2="117.5" stroke="#ff0026" stroke-width="2.6" />
<line x1="1351" y1="117.5" x2="1361" y2="117.5" stroke="#ff0026" stroke-width="2.6" />
<polygon points="1340,106.8 1350.7,117.5 1340,128.2 1329.3,117.5" fill="#fff" stroke="#ff0026" stroke-width="3.6" stroke-linejoin="miter"/>
<text transform="translate(1373.4 37.8) scale(1 1.0)" font-size="24.35" fill="#000" text-anchor="start" stroke="#000" stroke-width="0.3" >DUT-149(Cu) ads.</text>
<text transform="translate(1373.4 67) scale(1 1.0)" font-size="24.35" fill="#000" text-anchor="start" stroke="#000" stroke-width="0.3" >DUT-149(Cu) des.</text>
<text transform="translate(1373.4 96.3) scale(1 1.0)" font-size="24.35" fill="#000" text-anchor="start" stroke="#000" stroke-width="0.3" >DUT-49(Cu) ads.</text>
<text transform="translate(1373.4 125.8) scale(1 1.0)" font-size="24.35" fill="#000" text-anchor="start" stroke="#000" stroke-width="0.3" >DUT-49(Cu) des.</text>
</g>
<g id="panel-c">
<line x1="148.1" y1="1133.6" x2="148.1" y2="1122.7" stroke="#000" stroke-width="3" />
<line x1="199.36" y1="1133.6" x2="199.36" y2="1127.4" stroke="#000" stroke-width="3" />
<line x1="250.62" y1="1133.6" x2="250.62" y2="1122.7" stroke="#000" stroke-width="3" />
<line x1="301.88" y1="1133.6" x2="301.88" y2="1127.4" stroke="#000" stroke-width="3" />
<line x1="353.14" y1="1133.6" x2="353.14" y2="1122.7" stroke="#000" stroke-width="3" />
<line x1="404.4" y1="1133.6" x2="404.4" y2="1127.4" stroke="#000" stroke-width="3" />
<line x1="455.66" y1="1133.6" x2="455.66" y2="1122.7" stroke="#000" stroke-width="3" />
<line x1="506.92" y1="1133.6" x2="506.92" y2="1127.4" stroke="#000" stroke-width="3" />
<line x1="558.18" y1="1133.6" x2="558.18" y2="1122.7" stroke="#000" stroke-width="3" />
<line x1="609.44" y1="1133.6" x2="609.44" y2="1127.4" stroke="#000" stroke-width="3" />
<line x1="660.7" y1="1133.6" x2="660.7" y2="1122.7" stroke="#000" stroke-width="3" />
<line x1="711.96" y1="1133.6" x2="711.96" y2="1127.4" stroke="#000" stroke-width="3" />
<line x1="121.2" y1="587.5" x2="737.1" y2="587.5" stroke="#000" stroke-width="3.4" />
<line x1="123" y1="1133.6" x2="737.1" y2="1133.6" stroke="#000" stroke-width="3.2" />
<line x1="123" y1="589.2" x2="123" y2="1135.2" stroke="#4da6ff" stroke-width="3.5" />
<line x1="123" y1="1116.3" x2="133.9" y2="1116.3" stroke="#4da6ff" stroke-width="3.4" />
<line x1="123" y1="1072.2" x2="129.6" y2="1072.2" stroke="#4da6ff" stroke-width="3.4" />
<line x1="123" y1="1028.1" x2="133.9" y2="1028.1" stroke="#4da6ff" stroke-width="3.4" />
<line x1="123" y1="984" x2="129.6" y2="984" stroke="#4da6ff" stroke-width="3.4" />
<line x1="123" y1="939.9" x2="133.9" y2="939.9" stroke="#4da6ff" stroke-width="3.4" />
<line x1="123" y1="895.8" x2="129.6" y2="895.8" stroke="#4da6ff" stroke-width="3.4" />
<line x1="123" y1="851.7" x2="133.9" y2="851.7" stroke="#4da6ff" stroke-width="3.4" />
<line x1="123" y1="807.6" x2="129.6" y2="807.6" stroke="#4da6ff" stroke-width="3.4" />
<line x1="123" y1="763.5" x2="133.9" y2="763.5" stroke="#4da6ff" stroke-width="3.4" />
<line x1="123" y1="719.4" x2="129.6" y2="719.4" stroke="#4da6ff" stroke-width="3.4" />
<line x1="123" y1="675.3" x2="133.9" y2="675.3" stroke="#4da6ff" stroke-width="3.4" />
<line x1="123" y1="631.2" x2="129.6" y2="631.2" stroke="#4da6ff" stroke-width="3.4" />
<line x1="737.1" y1="585.8" x2="737.1" y2="1135.2" stroke="#7f00ff" stroke-width="3.5" />
<line x1="737.1" y1="1099.1" x2="726" y2="1099.1" stroke="#7f00ff" stroke-width="3.4" />
<line x1="737.1" y1="1042.25" x2="731.1" y2="1042.25" stroke="#7f00ff" stroke-width="3.4" />
<line x1="737.1" y1="985.4" x2="726" y2="985.4" stroke="#7f00ff" stroke-width="3.4" />
<line x1="737.1" y1="928.55" x2="731.1" y2="928.55" stroke="#7f00ff" stroke-width="3.4" />
<line x1="737.1" y1="871.7" x2="726" y2="871.7" stroke="#7f00ff" stroke-width="3.4" />
<line x1="737.1" y1="814.85" x2="731.1" y2="814.85" stroke="#7f00ff" stroke-width="3.4" />
<line x1="737.1" y1="758" x2="726" y2="758" stroke="#7f00ff" stroke-width="3.4" />
<line x1="737.1" y1="701.15" x2="731.1" y2="701.15" stroke="#7f00ff" stroke-width="3.4" />
<line x1="737.1" y1="644.3" x2="726" y2="644.3" stroke="#7f00ff" stroke-width="3.4" />
<line x1="737.1" y1="587.45" x2="731.1" y2="587.45" stroke="#7f00ff" stroke-width="3.4" />
<text transform="translate(111.4 1125.9) scale(1 1.1)" font-size="30.3" fill="#4da6ff" text-anchor="end" stroke="#4da6ff" stroke-width="0.3" >0</text>
<text transform="translate(111.4 1037.7) scale(1 1.1)" font-size="30.3" fill="#4da6ff" text-anchor="end" stroke="#4da6ff" stroke-width="0.3" >100</text>
<text transform="translate(111.4 949.5) scale(1 1.1)" font-size="30.3" fill="#4da6ff" text-anchor="end" stroke="#4da6ff" stroke-width="0.3" >200</text>
<text transform="translate(111.4 861.3) scale(1 1.1)" font-size="30.3" fill="#4da6ff" text-anchor="end" stroke="#4da6ff" stroke-width="0.3" >300</text>
<text transform="translate(111.4 773.1) scale(1 1.1)" font-size="30.3" fill="#4da6ff" text-anchor="end" stroke="#4da6ff" stroke-width="0.3" >400</text>
<text transform="translate(111.4 684.9) scale(1 1.1)" font-size="30.3" fill="#4da6ff" text-anchor="end" stroke="#4da6ff" stroke-width="0.3" >500</text>
<text transform="translate(111.4 596.7) scale(1 1.1)" font-size="30.3" fill="#4da6ff" text-anchor="end" stroke="#4da6ff" stroke-width="0.3" >600</text>
<text transform="translate(747.9 1109) scale(1 1.1)" font-size="30.3" fill="#7f00ff" text-anchor="start" stroke="#7f00ff" stroke-width="0.3" >46.36</text>
<text transform="translate(747.9 995.3) scale(1 1.1)" font-size="30.3" fill="#7f00ff" text-anchor="start" stroke="#7f00ff" stroke-width="0.3" >46.38</text>
<text transform="translate(747.9 881.6) scale(1 1.1)" font-size="30.3" fill="#7f00ff" text-anchor="start" stroke="#7f00ff" stroke-width="0.3" >46.40</text>
<text transform="translate(747.9 767.9) scale(1 1.1)" font-size="30.3" fill="#7f00ff" text-anchor="start" stroke="#7f00ff" stroke-width="0.3" >46.42</text>
<text transform="translate(747.9 654.2) scale(1 1.1)" font-size="30.3" fill="#7f00ff" text-anchor="start" stroke="#7f00ff" stroke-width="0.3" >46.44</text>
<text transform="translate(148.1 1169.3) scale(1 1.09)" font-size="30" fill="#000" text-anchor="middle" stroke="#000" stroke-width="0.3" >0</text>
<text transform="translate(250.62 1169.3) scale(1 1.09)" font-size="30" fill="#000" text-anchor="middle" stroke="#000" stroke-width="0.3" >20</text>
<text transform="translate(353.14 1169.3) scale(1 1.09)" font-size="30" fill="#000" text-anchor="middle" stroke="#000" stroke-width="0.3" >40</text>
<text transform="translate(455.66 1169.3) scale(1 1.09)" font-size="30" fill="#000" text-anchor="middle" stroke="#000" stroke-width="0.3" >60</text>
<text transform="translate(558.18 1169.3) scale(1 1.09)" font-size="30" fill="#000" text-anchor="middle" stroke="#000" stroke-width="0.3" >80</text>
<text transform="translate(660.7 1169.3) scale(1 1.09)" font-size="30" fill="#000" text-anchor="middle" stroke="#000" stroke-width="0.3" >100</text>
<text transform="translate(429.5 1223.5) scale(1 1.0)" font-size="35.5" fill="#000" text-anchor="middle" stroke="#000" stroke-width="0.3" >Pressure / kPa</text>
<text transform="translate(42.3 860) rotate(-90) scale(1 1.03)" font-size="35.5" fill="#000" text-anchor="middle" stroke="#000" stroke-width="0.3" >Loading / mol. u.c.<tspan font-size="23" dy="-15">-1</tspan></text>
<text transform="translate(855.8 861) rotate(-90) scale(1 1.03)" font-size="35.5" fill="#000" text-anchor="middle" stroke="#000" stroke-width="0.3" >a / Å</text>
<text x="15" y="616.4" font-size="58" font-weight="bold" textLength="27" lengthAdjust="spacingAndGlyphs">c</text>
<line x1="626.85" y1="714.7" x2="601.35" y2="716.9" stroke="#4da6ff" stroke-width="3.6" stroke-linecap="butt"/>
<line x1="575.95" y1="719.98" x2="550.05" y2="724.02" stroke="#4da6ff" stroke-width="3.6" stroke-linecap="butt"/>
<line x1="524.72" y1="727.71" x2="498.28" y2="731.29" stroke="#4da6ff" stroke-width="3.6" stroke-linecap="butt"/>
<line x1="473.14" y1="735.93" x2="444.46" y2="742.67" stroke="#4da6ff" stroke-width="3.6" stroke-linecap="butt"/>
<line x1="395.55" y1="758.72" x2="392.45" y2="760.28" stroke="#4da6ff" stroke-width="3.6" stroke-linecap="butt"/>
<line x1="349.64" y1="802.62" x2="345.36" y2="811.88" stroke="#4da6ff" stroke-width="3.6" stroke-linecap="butt"/>
<line x1="336.65" y1="835.85" x2="335.35" y2="840.65" stroke="#4da6ff" stroke-width="3.6" stroke-linecap="butt"/>
<line x1="327.33" y1="872.52" x2="326.27" y2="877.48" stroke="#4da6ff" stroke-width="3.6" stroke-linecap="butt"/>
<line x1="316.16" y1="920.21" x2="312.84" y2="930.79" stroke="#4da6ff" stroke-width="3.6" stroke-linecap="butt"/>
<circle cx="639.6" cy="713.6" r="10.6" fill="none" stroke="#4da6ff" stroke-width="4.4"/>
<circle cx="588.6" cy="718" r="10.6" fill="none" stroke="#4da6ff" stroke-width="4.4"/>
<circle cx="537.4" cy="726" r="10.6" fill="none" stroke="#4da6ff" stroke-width="4.4"/>
<circle cx="485.6" cy="733" r="10.6" fill="none" stroke="#4da6ff" stroke-width="4.4"/>
<circle cx="432" cy="745.6" r="10.6" fill="none" stroke="#4da6ff" stroke-width="4.4"/>
<circle cx="407" cy="753" r="10.6" fill="none" stroke="#4da6ff" stroke-width="4.4"/>
<circle cx="381" cy="766" r="10.6" fill="none" stroke="#4da6ff" stroke-width="4.4"/>
<circle cx="365" cy="778" r="10.6" fill="none" stroke="#4da6ff" stroke-width="4.4"/>
<circle cx="355" cy="791" r="10.6" fill="none" stroke="#4da6ff" stroke-width="4.4"/>
<circle cx="340" cy="823.5" r="10.6" fill="none" stroke="#4da6ff" stroke-width="4.4"/>
<circle cx="332" cy="853" r="10.6" fill="none" stroke="#4da6ff" stroke-width="4.4"/>
<circle cx="330" cy="860" r="10.6" fill="none" stroke="#4da6ff" stroke-width="4.4"/>
<circle cx="323.6" cy="890" r="10.6" fill="none" stroke="#4da6ff" stroke-width="4.4"/>
<circle cx="320" cy="908" r="10.6" fill="none" stroke="#4da6ff" stroke-width="4.4"/>
<circle cx="309" cy="943" r="10.6" fill="none" stroke="#4da6ff" stroke-width="4.4"/>
<circle cx="303" cy="954" r="10.6" fill="none" stroke="#4da6ff" stroke-width="4.4"/>
<circle cx="288" cy="972.5" r="10.6" fill="none" stroke="#4da6ff" stroke-width="4.4"/>
<circle cx="277" cy="983.5" r="10.6" fill="none" stroke="#4da6ff" stroke-width="4.4"/>
<circle cx="266" cy="991.5" r="10.6" fill="none" stroke="#4da6ff" stroke-width="4.4"/>
<circle cx="250" cy="1002.5" r="10.6" fill="none" stroke="#4da6ff" stroke-width="4.4"/>
<circle cx="234" cy="1013.5" r="10.6" fill="none" stroke="#4da6ff" stroke-width="4.4"/>
<circle cx="219" cy="1023.5" r="10.6" fill="none" stroke="#4da6ff" stroke-width="4.4"/>
<circle cx="198" cy="1037.5" r="10.6" fill="none" stroke="#4da6ff" stroke-width="4.4"/>
<circle cx="189" cy="1040.5" r="10.6" fill="none" stroke="#4da6ff" stroke-width="4.4"/>
<circle cx="173" cy="1059" r="10.6" fill="none" stroke="#4da6ff" stroke-width="4.4"/>
<circle cx="162" cy="1073" r="10.6" fill="none" stroke="#4da6ff" stroke-width="4.4"/>
<circle cx="152" cy="1097" r="10.6" fill="none" stroke="#4da6ff" stroke-width="4.4"/>
<circle cx="150" cy="1105" r="10.6" fill="none" stroke="#4da6ff" stroke-width="4.4"/>
<line x1="156.64" y1="1099.33" x2="159.96" y2="1092.27" stroke="#4da6ff" stroke-width="3.6" stroke-linecap="butt"/>
<line x1="173.31" y1="1073.22" x2="182.69" y2="1063.78" stroke="#4da6ff" stroke-width="3.6" stroke-linecap="butt"/>
<line x1="237.07" y1="1024.04" x2="237.53" y2="1023.76" stroke="#4da6ff" stroke-width="3.6" stroke-linecap="butt"/>
<line x1="288.13" y1="993.32" x2="294.87" y2="988.68" stroke="#4da6ff" stroke-width="3.6" stroke-linecap="butt"/>
<line x1="313.02" y1="973.73" x2="318.58" y2="968.27" stroke="#4da6ff" stroke-width="3.6" stroke-linecap="butt"/>
<line x1="335.07" y1="944.35" x2="344.93" y2="923.65" stroke="#4da6ff" stroke-width="3.6" stroke-linecap="butt"/>
<line x1="359.07" y1="876.61" x2="359.93" y2="873.39" stroke="#4da6ff" stroke-width="3.6" stroke-linecap="butt"/>
<line x1="369.33" y1="834.68" x2="372.67" y2="823.32" stroke="#4da6ff" stroke-width="3.6" stroke-linecap="butt"/>
<line x1="388.92" y1="787.44" x2="396.08" y2="777.56" stroke="#4da6ff" stroke-width="3.6" stroke-linecap="butt"/>
<line x1="418.89" y1="758.46" x2="446.11" y2="747.14" stroke="#4da6ff" stroke-width="3.6" stroke-linecap="butt"/>
<line x1="472.54" y1="738.54" x2="501.06" y2="732.46" stroke="#4da6ff" stroke-width="3.6" stroke-linecap="butt"/>
<line x1="524.32" y1="728.63" x2="552.28" y2="725.37" stroke="#4da6ff" stroke-width="3.6" stroke-linecap="butt"/>
<line x1="575.72" y1="722.64" x2="603.88" y2="719.36" stroke="#4da6ff" stroke-width="3.6" stroke-linecap="butt"/>
<line x1="627.33" y1="716.72" x2="645.87" y2="714.68" stroke="#4da6ff" stroke-width="3.6" stroke-linecap="butt"/>
<circle cx="148" cy="1116" r="10.5" fill="#4da6ff" stroke="#000" stroke-width="2.2"/>
<circle cx="149.5" cy="1113" r="10.5" fill="#4da6ff" stroke="#000" stroke-width="2.2"/>
<circle cx="151.6" cy="1110" r="10.5" fill="#4da6ff" stroke="#000" stroke-width="2.2"/>
<circle cx="165" cy="1081.6" r="10.5" fill="#4da6ff" stroke="#000" stroke-width="2.2"/>
<circle cx="191" cy="1055.4" r="10.5" fill="#4da6ff" stroke="#000" stroke-width="2.2"/>
<circle cx="200" cy="1047.6" r="10.5" fill="#4da6ff" stroke="#000" stroke-width="2.2"/>
<circle cx="211.4" cy="1040" r="10.5" fill="#4da6ff" stroke="#000" stroke-width="2.2"/>
<circle cx="227" cy="1030.2" r="10.5" fill="#4da6ff" stroke="#000" stroke-width="2.2"/>
<circle cx="247.6" cy="1017.6" r="10.5" fill="#4da6ff" stroke="#000" stroke-width="2.2"/>
<circle cx="268" cy="1005.8" r="10.5" fill="#4da6ff" stroke="#000" stroke-width="2.2"/>
<circle cx="278.4" cy="1000" r="10.5" fill="#4da6ff" stroke="#000" stroke-width="2.2"/>
<circle cx="304.6" cy="982" r="10.5" fill="#4da6ff" stroke="#000" stroke-width="2.2"/>
<circle cx="327" cy="960" r="10.5" fill="#4da6ff" stroke="#000" stroke-width="2.2"/>
<circle cx="330" cy="955" r="10.5" fill="#4da6ff" stroke="#000" stroke-width="2.2"/>
<circle cx="350" cy="913" r="10.5" fill="#4da6ff" stroke="#000" stroke-width="2.2"/>
<circle cx="355" cy="893" r="10.5" fill="#4da6ff" stroke="#000" stroke-width="2.2"/>
<circle cx="356" cy="888" r="10.5" fill="#4da6ff" stroke="#000" stroke-width="2.2"/>
<circle cx="363" cy="862" r="10.5" fill="#4da6ff" stroke="#000" stroke-width="2.2"/>
<circle cx="366" cy="846" r="10.5" fill="#4da6ff" stroke="#000" stroke-width="2.2"/>
<circle cx="376" cy="812" r="10.5" fill="#4da6ff" stroke="#000" stroke-width="2.2"/>
<circle cx="382" cy="797" r="10.5" fill="#4da6ff" stroke="#000" stroke-width="2.2"/>
<circle cx="403" cy="768" r="10.5" fill="#4da6ff" stroke="#000" stroke-width="2.2"/>
<circle cx="408" cy="763" r="10.5" fill="#4da6ff" stroke="#000" stroke-width="2.2"/>
<circle cx="457" cy="742.6" r="10.5" fill="#4da6ff" stroke="#000" stroke-width="2.2"/>
<circle cx="461" cy="741" r="10.5" fill="#4da6ff" stroke="#000" stroke-width="2.2"/>
<circle cx="512.6" cy="730" r="10.5" fill="#4da6ff" stroke="#000" stroke-width="2.2"/>
<circle cx="564" cy="724" r="10.5" fill="#4da6ff" stroke="#000" stroke-width="2.2"/>
<circle cx="615.6" cy="718" r="10.5" fill="#4da6ff" stroke="#000" stroke-width="2.2"/>
<circle cx="657.6" cy="713.4" r="10.5" fill="#4da6ff" stroke="#000" stroke-width="2.2"/>
<polygon points="639.6,791.8 653.2,805.4 639.6,819 626,805.4" fill="#fff" stroke="#7f00ff" stroke-width="4.25" stroke-linejoin="round" fill-opacity="0.55" stroke-opacity="0.6"/>
<polygon points="588.6,720.4 602.2,734 588.6,747.6 575,734" fill="#fff" stroke="#7f00ff" stroke-width="4.25" stroke-linejoin="round" fill-opacity="0.55" stroke-opacity="0.6"/>
<polygon points="537.4,828.4 551,842 537.4,855.6 523.8,842" fill="#fff" stroke="#7f00ff" stroke-width="4.25" stroke-linejoin="round" fill-opacity="0.55" stroke-opacity="0.6"/>
<polygon points="432.4,896 446,909.6 432.4,923.2 418.8,909.6" fill="#fff" stroke="#7f00ff" stroke-width="4.25" stroke-linejoin="round" fill-opacity="0.55" stroke-opacity="0.6"/>
<polygon points="408,993.4 421.6,1007 408,1020.6 394.4,1007" fill="#fff" stroke="#7f00ff" stroke-width="4.25" stroke-linejoin="round" fill-opacity="0.55" stroke-opacity="0.6"/>
<polygon points="381,1006 394.6,1019.6 381,1033.2 367.4,1019.6" fill="#fff" stroke="#7f00ff" stroke-width="4.25" stroke-linejoin="round" fill-opacity="0.55" stroke-opacity="0.6"/>
<polygon points="366,1047.4 379.6,1061 366,1074.6 352.4,1061" fill="#fff" stroke="#7f00ff" stroke-width="4.25" stroke-linejoin="round" fill-opacity="0.55" stroke-opacity="0.6"/>
<polygon points="355,1034.4 368.6,1048 355,1061.6 341.4,1048" fill="#fff" stroke="#7f00ff" stroke-width="4.25" stroke-linejoin="round" fill-opacity="0.55" stroke-opacity="0.6"/>
<polygon points="341,1002.4 354.6,1016 341,1029.6 327.4,1016" fill="#fff" stroke="#7f00ff" stroke-width="4.25" stroke-linejoin="round" fill-opacity="0.55" stroke-opacity="0.6"/>
<polygon points="340,949.4 353.6,963 340,976.6 326.4,963" fill="#fff" stroke="#7f00ff" stroke-width="4.25" stroke-linejoin="round" fill-opacity="0.55" stroke-opacity="0.6"/>
<polygon points="331,910.4 344.6,924 331,937.6 317.4,924" fill="#fff" stroke="#7f00ff" stroke-width="4.25" stroke-linejoin="round" fill-opacity="0.55" stroke-opacity="0.6"/>
<polygon points="323,892.4 336.6,906 323,919.6 309.4,906" fill="#fff" stroke="#7f00ff" stroke-width="4.25" stroke-linejoin="round" fill-opacity="0.55" stroke-opacity="0.6"/>
<polygon points="320,827.4 333.6,841 320,854.6 306.4,841" fill="#fff" stroke="#7f00ff" stroke-width="4.25" stroke-linejoin="round" fill-opacity="0.55" stroke-opacity="0.6"/>
<polygon points="307,788.4 320.6,802 307,815.6 293.4,802" fill="#fff" stroke="#7f00ff" stroke-width="4.25" stroke-linejoin="round" fill-opacity="0.55" stroke-opacity="0.6"/>
<polygon points="303,755.4 316.6,769 303,782.6 289.4,769" fill="#fff" stroke="#7f00ff" stroke-width="4.25" stroke-linejoin="round" fill-opacity="0.55" stroke-opacity="0.6"/>
<polygon points="288,764.4 301.6,778 288,791.6 274.4,778" fill="#fff" stroke="#7f00ff" stroke-width="4.25" stroke-linejoin="round" fill-opacity="0.55" stroke-opacity="0.6"/>
<polygon points="277,733.4 290.6,747 277,760.6 263.4,747" fill="#fff" stroke="#7f00ff" stroke-width="4.25" stroke-linejoin="round" fill-opacity="0.55" stroke-opacity="0.6"/>
<polygon points="267,732.4 280.6,746 267,759.6 253.4,746" fill="#fff" stroke="#7f00ff" stroke-width="4.25" stroke-linejoin="round" fill-opacity="0.55" stroke-opacity="0.6"/>
<polygon points="252,731.4 265.6,745 252,758.6 238.4,745" fill="#fff" stroke="#7f00ff" stroke-width="4.25" stroke-linejoin="round" fill-opacity="0.55" stroke-opacity="0.6"/>
<polygon points="251,742.4 264.6,756 251,769.6 237.4,756" fill="#fff" stroke="#7f00ff" stroke-width="4.25" stroke-linejoin="round" fill-opacity="0.55" stroke-opacity="0.6"/>
<polygon points="235,773.4 248.6,787 235,800.6 221.4,787" fill="#fff" stroke="#7f00ff" stroke-width="4.25" stroke-linejoin="round" fill-opacity="0.55" stroke-opacity="0.6"/>
<polygon points="219,781.4 232.6,795 219,808.6 205.4,795" fill="#fff" stroke="#7f00ff" stroke-width="4.25" stroke-linejoin="round" fill-opacity="0.55" stroke-opacity="0.6"/>
<polygon points="200,792.4 213.6,806 200,819.6 186.4,806" fill="#fff" stroke="#7f00ff" stroke-width="4.25" stroke-linejoin="round" fill-opacity="0.55" stroke-opacity="0.6"/>
<polygon points="195,786.4 208.6,800 195,813.6 181.4,800" fill="#fff" stroke="#7f00ff" stroke-width="4.25" stroke-linejoin="round" fill-opacity="0.55" stroke-opacity="0.6"/>
<polygon points="174,803.4 187.6,817 174,830.6 160.4,817" fill="#fff" stroke="#7f00ff" stroke-width="4.25" stroke-linejoin="round" fill-opacity="0.55" stroke-opacity="0.6"/>
<polygon points="153,809.4 166.6,823 153,836.6 139.4,823" fill="#fff" stroke="#7f00ff" stroke-width="4.25" stroke-linejoin="round" fill-opacity="0.55" stroke-opacity="0.6"/>
<polygon points="154,835.4 167.6,849 154,862.6 140.4,849" fill="#fff" stroke="#7f00ff" stroke-width="4.25" stroke-linejoin="round" fill-opacity="0.55" stroke-opacity="0.6"/>
<polygon points="148.6,674.2 162.4,688 148.6,701.8 134.8,688" fill="#7f00ff" stroke="#000" stroke-width="2.4" stroke-linejoin="miter" fill-opacity="0.6" stroke-opacity="0.66"/>
<polygon points="200.6,673.2 214.4,687 200.6,700.8 186.8,687" fill="#7f00ff" stroke="#000" stroke-width="2.4" stroke-linejoin="miter" fill-opacity="0.6" stroke-opacity="0.66"/>
<polygon points="211.6,818.2 225.4,832 211.6,845.8 197.8,832" fill="#7f00ff" stroke="#000" stroke-width="2.4" stroke-linejoin="miter" fill-opacity="0.6" stroke-opacity="0.66"/>
<polygon points="227,799.2 240.8,813 227,826.8 213.2,813" fill="#7f00ff" stroke="#000" stroke-width="2.4" stroke-linejoin="miter" fill-opacity="0.6" stroke-opacity="0.66"/>
<polygon points="247.6,807.2 261.4,821 247.6,834.8 233.8,821" fill="#7f00ff" stroke="#000" stroke-width="2.4" stroke-linejoin="miter" fill-opacity="0.6" stroke-opacity="0.66"/>
<polygon points="269,784.2 282.8,798 269,811.8 255.2,798" fill="#7f00ff" stroke="#000" stroke-width="2.4" stroke-linejoin="miter" fill-opacity="0.6" stroke-opacity="0.66"/>
<polygon points="278,782.2 291.8,796 278,809.8 264.2,796" fill="#7f00ff" stroke="#000" stroke-width="2.4" stroke-linejoin="miter" fill-opacity="0.6" stroke-opacity="0.66"/>
<polygon points="304,767.8 317.8,781.6 304,795.4 290.2,781.6" fill="#7f00ff" stroke="#000" stroke-width="2.4" stroke-linejoin="miter" fill-opacity="0.6" stroke-opacity="0.66"/>
<polygon points="327,768.2 340.8,782 327,795.8 313.2,782" fill="#7f00ff" stroke="#000" stroke-width="2.4" stroke-linejoin="miter" fill-opacity="0.6" stroke-opacity="0.66"/>
<polygon points="330,787.2 343.8,801 330,814.8 316.2,801" fill="#7f00ff" stroke="#000" stroke-width="2.4" stroke-linejoin="miter" fill-opacity="0.6" stroke-opacity="0.66"/>
<polygon points="349,787.2 362.8,801 349,814.8 335.2,801" fill="#7f00ff" stroke="#000" stroke-width="2.4" stroke-linejoin="miter" fill-opacity="0.6" stroke-opacity="0.66"/>
<polygon points="356,853.2 369.8,867 356,880.8 342.2,867" fill="#7f00ff" stroke="#000" stroke-width="2.4" stroke-linejoin="miter" fill-opacity="0.6" stroke-opacity="0.66"/>
<polygon points="355,895.2 368.8,909 355,922.8 341.2,909" fill="#7f00ff" stroke="#000" stroke-width="2.4" stroke-linejoin="miter" fill-opacity="0.6" stroke-opacity="0.66"/>
<polygon points="363,903.2 376.8,917 363,930.8 349.2,917" fill="#7f00ff" stroke="#000" stroke-width="2.4" stroke-linejoin="miter" fill-opacity="0.6" stroke-opacity="0.66"/>
<polygon points="366,953.2 379.8,967 366,980.8 352.2,967" fill="#7f00ff" stroke="#000" stroke-width="2.4" stroke-linejoin="miter" fill-opacity="0.6" stroke-opacity="0.66"/>
<polygon points="376,950.6 389.8,964.4 376,978.2 362.2,964.4" fill="#7f00ff" stroke="#000" stroke-width="2.4" stroke-linejoin="miter" fill-opacity="0.6" stroke-opacity="0.66"/>
<polygon points="382,1042.8 395.8,1056.6 382,1070.4 368.2,1056.6" fill="#7f00ff" stroke="#000" stroke-width="2.4" stroke-linejoin="miter" fill-opacity="0.6" stroke-opacity="0.66"/>
<polygon points="403,1068.2 416.8,1082 403,1095.8 389.2,1082" fill="#7f00ff" stroke="#000" stroke-width="2.4" stroke-linejoin="miter" fill-opacity="0.6" stroke-opacity="0.66"/>
<polygon points="408,1075.2 421.8,1089 408,1102.8 394.2,1089" fill="#7f00ff" stroke="#000" stroke-width="2.4" stroke-linejoin="miter" fill-opacity="0.6" stroke-opacity="0.66"/>
<polygon points="457.4,1075.2 471.2,1089 457.4,1102.8 443.6,1089" fill="#7f00ff" stroke="#000" stroke-width="2.4" stroke-linejoin="miter" fill-opacity="0.6" stroke-opacity="0.66"/>
<polygon points="461,1022.2 474.8,1036 461,1049.8 447.2,1036" fill="#7f00ff" stroke="#000" stroke-width="2.4" stroke-linejoin="miter" fill-opacity="0.6" stroke-opacity="0.66"/>
<polygon points="513,991.8 526.8,1005.6 513,1019.4 499.2,1005.6" fill="#7f00ff" stroke="#000" stroke-width="2.4" stroke-linejoin="miter" fill-opacity="0.6" stroke-opacity="0.66"/>
<polygon points="564,930.2 577.8,944 564,957.8 550.2,944" fill="#7f00ff" stroke="#000" stroke-width="2.4" stroke-linejoin="miter" fill-opacity="0.6" stroke-opacity="0.66"/>
<polygon points="615.6,854.2 629.4,868 615.6,881.8 601.8,868" fill="#7f00ff" stroke="#000" stroke-width="2.4" stroke-linejoin="miter" fill-opacity="0.6" stroke-opacity="0.66"/>
<polygon points="657.6,802.2 671.4,816 657.6,829.8 643.8,816" fill="#7f00ff" stroke="#000" stroke-width="2.4" stroke-linejoin="miter" fill-opacity="0.6" stroke-opacity="0.66"/>
<line x1="629.72" y1="791.57" x2="598.48" y2="747.83" stroke="#7f00ff" stroke-width="3.8" stroke-linecap="round" stroke-dasharray="9 9" stroke-opacity="0.6"/>
<line x1="581.32" y1="749.36" x2="544.68" y2="826.64" stroke="#7f00ff" stroke-width="3.8" stroke-linecap="round" stroke-dasharray="9 9" stroke-opacity="0.6"/>
<line x1="523.11" y1="851.2" x2="446.69" y2="900.4" stroke="#7f00ff" stroke-width="3.8" stroke-linecap="round" stroke-dasharray="9 9" stroke-opacity="0.6"/>
<line x1="428.27" y1="926.09" x2="412.13" y2="990.51" stroke="#7f00ff" stroke-width="3.8" stroke-linecap="round" stroke-dasharray="9 9" stroke-opacity="0.6"/>
<line x1="375.21" y1="1035.58" x2="371.79" y2="1045.02" stroke="#7f00ff" stroke-width="3.8" stroke-linecap="round" stroke-dasharray="9 9" stroke-opacity="0.6"/>
<line x1="348.19" y1="1032.43" x2="347.81" y2="1031.57" stroke="#7f00ff" stroke-width="3.8" stroke-linecap="round" stroke-dasharray="9 9" stroke-opacity="0.6"/>
<line x1="340.68" y1="999" x2="340.32" y2="980" stroke="#7f00ff" stroke-width="3.8" stroke-linecap="round" stroke-dasharray="9 9" stroke-opacity="0.6"/>
<line x1="336.18" y1="946.44" x2="334.82" y2="940.56" stroke="#7f00ff" stroke-width="3.8" stroke-linecap="round" stroke-dasharray="9 9" stroke-opacity="0.6"/>
<line x1="322.22" y1="889.02" x2="320.78" y2="857.98" stroke="#7f00ff" stroke-width="3.8" stroke-linecap="round" stroke-dasharray="9 9" stroke-opacity="0.6"/>
<line x1="314.62" y1="824.87" x2="312.38" y2="818.13" stroke="#7f00ff" stroke-width="3.8" stroke-linecap="round" stroke-dasharray="9 9" stroke-opacity="0.6"/>
<line x1="243.2" y1="771.11" x2="242.8" y2="771.89" stroke="#7f00ff" stroke-width="3.8" stroke-linecap="round" stroke-dasharray="9 9" stroke-opacity="0.6"/>
<line x1="165.6" y1="687.67" x2="183.6" y2="687.33" stroke="#7f00ff" stroke-width="3.8" stroke-linecap="round" stroke-opacity="0.6"/>
<line x1="201.89" y1="703.95" x2="210.31" y2="815.05" stroke="#7f00ff" stroke-width="3.8" stroke-linecap="round" stroke-opacity="0.6"/>
<line x1="350.79" y1="817.91" x2="354.21" y2="850.09" stroke="#7f00ff" stroke-width="3.8" stroke-linecap="round" stroke-opacity="0.6"/>
<line x1="355.6" y1="884" x2="355.4" y2="892" stroke="#7f00ff" stroke-width="3.8" stroke-linecap="round" stroke-opacity="0.6"/>
<line x1="364.02" y1="933.97" x2="364.98" y2="950.03" stroke="#7f00ff" stroke-width="3.8" stroke-linecap="round" stroke-opacity="0.6"/>
<line x1="377.1" y1="981.36" x2="380.9" y2="1039.64" stroke="#7f00ff" stroke-width="3.8" stroke-linecap="round" stroke-opacity="0.6"/>
<line x1="425" y1="1089" x2="440.4" y2="1089" stroke="#7f00ff" stroke-width="3.8" stroke-linecap="round" stroke-opacity="0.6"/>
<line x1="458.55" y1="1072.04" x2="459.85" y2="1052.96" stroke="#7f00ff" stroke-width="3.8" stroke-linecap="round" stroke-opacity="0.6"/>
<line x1="475.68" y1="1027.42" x2="498.32" y2="1014.18" stroke="#7f00ff" stroke-width="3.8" stroke-linecap="round" stroke-opacity="0.6"/>
<line x1="523.84" y1="992.51" x2="553.16" y2="957.09" stroke="#7f00ff" stroke-width="3.8" stroke-linecap="round" stroke-opacity="0.6"/>
<line x1="573.55" y1="929.94" x2="606.05" y2="882.06" stroke="#7f00ff" stroke-width="3.8" stroke-linecap="round" stroke-opacity="0.6"/>
<line x1="626.28" y1="854.77" x2="646.92" y2="829.23" stroke="#7f00ff" stroke-width="3.8" stroke-linecap="round" stroke-opacity="0.6"/>
<line x1="228" y1="618" x2="244" y2="618" stroke="#7f00ff" stroke-width="3.8" stroke-opacity="0.6" stroke-linecap="round"/>
<line x1="278" y1="618" x2="294.4" y2="618" stroke="#7f00ff" stroke-width="3.8" stroke-opacity="0.6" stroke-linecap="round"/>
<polygon points="261,604.2 274.8,618 261,631.8 247.2,618" fill="#7f00ff" stroke="#000" stroke-width="2.4" stroke-linejoin="miter" fill-opacity="0.6" stroke-opacity="0.66"/>
<line x1="229" y1="653" x2="236" y2="653" stroke="#7f00ff" stroke-width="3.8" stroke-opacity="0.6" stroke-linecap="round"/>
<line x1="277" y1="653" x2="284" y2="653" stroke="#7f00ff" stroke-width="3.8" stroke-opacity="0.6" stroke-linecap="round"/>
<polygon points="261,639.4 274.6,653 261,666.6 247.4,653" fill="#fff" stroke="#7f00ff" stroke-width="4.25" stroke-linejoin="round" stroke-opacity="0.6"/>
<text transform="translate(300.1 627.4) scale(1 1.0)" font-size="28.5" fill="#000" text-anchor="start" stroke="#000" stroke-width="0.3" >DUT-149(Cu) u.c. parameter ads.</text>
<text transform="translate(300.1 662.4) scale(1 1.0)" font-size="28.5" fill="#000" text-anchor="start" stroke="#000" stroke-width="0.3" >DUT-149(Cu) u.c. parameter des.</text>
</g>
<g id="panel-d">
<line x1="1017.1" y1="1134.4" x2="1017.1" y2="1123.5" stroke="#000" stroke-width="3" />
<line x1="1062.22" y1="1134.4" x2="1062.22" y2="1128.2" stroke="#000" stroke-width="3" />
<line x1="1107.35" y1="1134.4" x2="1107.35" y2="1123.5" stroke="#000" stroke-width="3" />
<line x1="1152.47" y1="1134.4" x2="1152.47" y2="1128.2" stroke="#000" stroke-width="3" />
<line x1="1197.6" y1="1134.4" x2="1197.6" y2="1123.5" stroke="#000" stroke-width="3" />
<line x1="1242.72" y1="1134.4" x2="1242.72" y2="1128.2" stroke="#000" stroke-width="3" />
<line x1="1287.85" y1="1134.4" x2="1287.85" y2="1123.5" stroke="#000" stroke-width="3" />
<line x1="1332.97" y1="1134.4" x2="1332.97" y2="1128.2" stroke="#000" stroke-width="3" />
<line x1="1378.1" y1="1134.4" x2="1378.1" y2="1123.5" stroke="#000" stroke-width="3" />
<line x1="1423.23" y1="1134.4" x2="1423.23" y2="1128.2" stroke="#000" stroke-width="3" />
<line x1="1468.35" y1="1134.4" x2="1468.35" y2="1123.5" stroke="#000" stroke-width="3" />
<line x1="1513.47" y1="1134.4" x2="1513.47" y2="1128.2" stroke="#000" stroke-width="3" />
<line x1="1558.6" y1="1134.4" x2="1558.6" y2="1123.5" stroke="#000" stroke-width="3" />
<line x1="988.2" y1="583.8" x2="1603.2" y2="583.8" stroke="#000" stroke-width="3.4" />
<line x1="990" y1="1134.4" x2="1592.2" y2="1134.4" stroke="#000" stroke-width="3.2" />
<line x1="990" y1="585.5" x2="990" y2="1136" stroke="#ff0026" stroke-width="3.5" />
<line x1="990" y1="1106.3" x2="1001.4" y2="1106.3" stroke="#ff0026" stroke-width="3.4" />
<line x1="990" y1="1065.05" x2="996.7" y2="1065.05" stroke="#ff0026" stroke-width="3.4" />
<line x1="990" y1="1023.8" x2="1001.4" y2="1023.8" stroke="#ff0026" stroke-width="3.4" />
<line x1="990" y1="982.55" x2="996.7" y2="982.55" stroke="#ff0026" stroke-width="3.4" />
<line x1="990" y1="941.3" x2="1001.4" y2="941.3" stroke="#ff0026" stroke-width="3.4" />
<line x1="990" y1="900.05" x2="996.7" y2="900.05" stroke="#ff0026" stroke-width="3.4" />
<line x1="990" y1="858.8" x2="1001.4" y2="858.8" stroke="#ff0026" stroke-width="3.4" />
<line x1="990" y1="817.55" x2="996.7" y2="817.55" stroke="#ff0026" stroke-width="3.4" />
<line x1="990" y1="776.3" x2="1001.4" y2="776.3" stroke="#ff0026" stroke-width="3.4" />
<line x1="990" y1="735.05" x2="996.7" y2="735.05" stroke="#ff0026" stroke-width="3.4" />
<line x1="990" y1="693.8" x2="1001.4" y2="693.8" stroke="#ff0026" stroke-width="3.4" />
<line x1="990" y1="652.55" x2="996.7" y2="652.55" stroke="#ff0026" stroke-width="3.4" />
<line x1="990" y1="611.3" x2="1001.4" y2="611.3" stroke="#ff0026" stroke-width="3.4" />
<line x1="1603.2" y1="582.1" x2="1603.2" y2="1136" stroke="#7f00ff" stroke-width="3.5" />
<line x1="1603.2" y1="1134.4" x2="1592.1" y2="1134.4" stroke="#7f00ff" stroke-width="3.4" />
<line x1="1603.2" y1="1085.25" x2="1597.2" y2="1085.25" stroke="#7f00ff" stroke-width="3.4" />
<line x1="1603.2" y1="1036.1" x2="1592.1" y2="1036.1" stroke="#7f00ff" stroke-width="3.4" />
<line x1="1603.2" y1="986.95" x2="1597.2" y2="986.95" stroke="#7f00ff" stroke-width="3.4" />
<line x1="1603.2" y1="937.8" x2="1592.1" y2="937.8" stroke="#7f00ff" stroke-width="3.4" />
<line x1="1603.2" y1="888.65" x2="1597.2" y2="888.65" stroke="#7f00ff" stroke-width="3.4" />
<line x1="1603.2" y1="839.5" x2="1592.1" y2="839.5" stroke="#7f00ff" stroke-width="3.4" />
<line x1="1603.2" y1="790.35" x2="1597.2" y2="790.35" stroke="#7f00ff" stroke-width="3.4" />
<line x1="1603.2" y1="741.2" x2="1592.1" y2="741.2" stroke="#7f00ff" stroke-width="3.4" />
<line x1="1603.2" y1="692.05" x2="1597.2" y2="692.05" stroke="#7f00ff" stroke-width="3.4" />
<line x1="1603.2" y1="642.9" x2="1592.1" y2="642.9" stroke="#7f00ff" stroke-width="3.4" />
<line x1="1603.2" y1="593.75" x2="1597.2" y2="593.75" stroke="#7f00ff" stroke-width="3.4" />
<text transform="translate(977.6 1115.9) scale(1 1.1)" font-size="30.3" fill="#ff0026" text-anchor="end" stroke="#ff0026" stroke-width="0.3" >0</text>
<text transform="translate(977.6 1033.4) scale(1 1.1)" font-size="30.3" fill="#ff0026" text-anchor="end" stroke="#ff0026" stroke-width="0.3" >30</text>
<text transform="translate(977.6 950.9) scale(1 1.1)" font-size="30.3" fill="#ff0026" text-anchor="end" stroke="#ff0026" stroke-width="0.3" >60</text>
<text transform="translate(977.6 868.4) scale(1 1.1)" font-size="30.3" fill="#ff0026" text-anchor="end" stroke="#ff0026" stroke-width="0.3" >90</text>
<text transform="translate(977.6 785.9) scale(1 1.1)" font-size="30.3" fill="#ff0026" text-anchor="end" stroke="#ff0026" stroke-width="0.3" >120</text>
<text transform="translate(977.6 703.4) scale(1 1.1)" font-size="30.3" fill="#ff0026" text-anchor="end" stroke="#ff0026" stroke-width="0.3" >150</text>
<text transform="translate(977.6 620.9) scale(1 1.1)" font-size="30.3" fill="#ff0026" text-anchor="end" stroke="#ff0026" stroke-width="0.3" >180</text>
<text transform="translate(1613.9 1144) scale(1 1.1)" font-size="30.3" fill="#7f00ff" text-anchor="start" stroke="#7f00ff" stroke-width="0.3" >46.330</text>
<text transform="translate(1613.9 1045.7) scale(1 1.1)" font-size="30.3" fill="#7f00ff" text-anchor="start" stroke="#7f00ff" stroke-width="0.3" >46.335</text>
<text transform="translate(1613.9 947.4) scale(1 1.1)" font-size="30.3" fill="#7f00ff" text-anchor="start" stroke="#7f00ff" stroke-width="0.3" >46.340</text>
<text transform="translate(1613.9 849.1) scale(1 1.1)" font-size="30.3" fill="#7f00ff" text-anchor="start" stroke="#7f00ff" stroke-width="0.3" >46.345</text>
<text transform="translate(1613.9 750.8) scale(1 1.1)" font-size="30.3" fill="#7f00ff" text-anchor="start" stroke="#7f00ff" stroke-width="0.3" >46.350</text>
<text transform="translate(1613.9 652.5) scale(1 1.1)" font-size="30.3" fill="#7f00ff" text-anchor="start" stroke="#7f00ff" stroke-width="0.3" >46.355</text>
<text transform="translate(1017.1 1169.5) scale(1 1.09)" font-size="30" fill="#000" text-anchor="middle" stroke="#000" stroke-width="0.3" >0</text>
<text transform="translate(1107.35 1169.5) scale(1 1.09)" font-size="30" fill="#000" text-anchor="middle" stroke="#000" stroke-width="0.3" >5</text>
<text transform="translate(1197.6 1169.5) scale(1 1.09)" font-size="30" fill="#000" text-anchor="middle" stroke="#000" stroke-width="0.3" >10</text>
<text transform="translate(1287.85 1169.5) scale(1 1.09)" font-size="30" fill="#000" text-anchor="middle" stroke="#000" stroke-width="0.3" >15</text>
<text transform="translate(1378.1 1169.5) scale(1 1.09)" font-size="30" fill="#000" text-anchor="middle" stroke="#000" stroke-width="0.3" >20</text>
<text transform="translate(1468.35 1169.5) scale(1 1.09)" font-size="30" fill="#000" text-anchor="middle" stroke="#000" stroke-width="0.3" >25</text>
<text transform="translate(1558.6 1169.5) scale(1 1.09)" font-size="30" fill="#000" text-anchor="middle" stroke="#000" stroke-width="0.3" >30</text>
<text transform="translate(1284.7 1224.3) scale(1 1.0)" font-size="35.5" fill="#000" text-anchor="middle" stroke="#000" stroke-width="0.3" >Pressure  / kPa</text>
<text transform="translate(930.6 844.5) rotate(-90) scale(1 1.03)" font-size="35.5" fill="#000" text-anchor="middle" stroke="#000" stroke-width="0.3" >Loading / mol. u.c.<tspan font-size="23" dy="-15">-1</tspan></text>
<text transform="translate(1749 859) rotate(-90) scale(1 1.03)" font-size="35.5" fill="#000" text-anchor="middle" stroke="#000" stroke-width="0.3" >a (Å)</text>
<text x="872.5" y="628" font-size="60" font-weight="bold" textLength="33" lengthAdjust="spacingAndGlyphs">d</text>
<polygon points="1527,934.8 1540.6,948.4 1527,962 1513.4,948.4" fill="#fff" stroke="#7f00ff" stroke-width="4.25" stroke-linejoin="round" fill-opacity="0.55" stroke-opacity="0.6"/>
<polygon points="1471,971.4 1484.6,985 1471,998.6 1457.4,985" fill="#fff" stroke="#7f00ff" stroke-width="4.25" stroke-linejoin="round" fill-opacity="0.55" stroke-opacity="0.6"/>
<polygon points="1332.6,1025.4 1346.2,1039 1332.6,1052.6 1319,1039" fill="#fff" stroke="#7f00ff" stroke-width="4.25" stroke-linejoin="round" fill-opacity="0.55" stroke-opacity="0.6"/>
<polygon points="1324.4,1047.4 1338,1061 1324.4,1074.6 1310.8,1061" fill="#fff" stroke="#7f00ff" stroke-width="4.25" stroke-linejoin="round" fill-opacity="0.55" stroke-opacity="0.6"/>
<polygon points="1252,1025 1265.6,1038.6 1252,1052.2 1238.4,1038.6" fill="#fff" stroke="#7f00ff" stroke-width="4.25" stroke-linejoin="round" fill-opacity="0.55" stroke-opacity="0.6"/>
<polygon points="1197.4,1031 1211,1044.6 1197.4,1058.2 1183.8,1044.6" fill="#fff" stroke="#7f00ff" stroke-width="4.25" stroke-linejoin="round" fill-opacity="0.55" stroke-opacity="0.6"/>
<polygon points="1144,988.4 1157.6,1002 1144,1015.6 1130.4,1002" fill="#fff" stroke="#7f00ff" stroke-width="4.25" stroke-linejoin="round" fill-opacity="0.55" stroke-opacity="0.6"/>
<polygon points="1125,988.4 1138.6,1002 1125,1015.6 1111.4,1002" fill="#fff" stroke="#7f00ff" stroke-width="4.25" stroke-linejoin="round" fill-opacity="0.55" stroke-opacity="0.6"/>
<polygon points="1107.4,1084.4 1121,1098 1107.4,1111.6 1093.8,1098" fill="#fff" stroke="#7f00ff" stroke-width="4.25" stroke-linejoin="round" fill-opacity="0.55" stroke-opacity="0.6"/>
<polygon points="1071.4,963.8 1085,977.4 1071.4,991 1057.8,977.4" fill="#fff" stroke="#7f00ff" stroke-width="4.25" stroke-linejoin="round" fill-opacity="0.55" stroke-opacity="0.6"/>
<polygon points="1039.6,918 1053.2,931.6 1039.6,945.2 1026,931.6" fill="#fff" stroke="#7f00ff" stroke-width="4.25" stroke-linejoin="round" fill-opacity="0.55" stroke-opacity="0.6"/>
<polygon points="1035,789.4 1048.6,803 1035,816.6 1021.4,803" fill="#fff" stroke="#7f00ff" stroke-width="4.25" stroke-linejoin="round" fill-opacity="0.55" stroke-opacity="0.6"/>
<polygon points="1019,710.2 1032.8,724 1019,737.8 1005.2,724" fill="#7f00ff" stroke="#000" stroke-width="2.4" stroke-linejoin="miter" fill-opacity="0.6" stroke-opacity="0.66"/>
<polygon points="1027,663.2 1040.8,677 1027,690.8 1013.2,677" fill="#7f00ff" stroke="#000" stroke-width="2.4" stroke-linejoin="miter" fill-opacity="0.6" stroke-opacity="0.66"/>
<polygon points="1036,734.8 1049.8,748.6 1036,762.4 1022.2,748.6" fill="#7f00ff" stroke="#000" stroke-width="2.4" stroke-linejoin="miter" fill-opacity="0.6" stroke-opacity="0.66"/>
<polygon points="1054,860.2 1067.8,874 1054,887.8 1040.2,874" fill="#7f00ff" stroke="#000" stroke-width="2.4" stroke-linejoin="miter" fill-opacity="0.6" stroke-opacity="0.66"/>
<polygon points="1071,847.8 1084.8,861.6 1071,875.4 1057.2,861.6" fill="#7f00ff" stroke="#000" stroke-width="2.4" stroke-linejoin="miter" fill-opacity="0.6" stroke-opacity="0.66"/>
<polygon points="1072.4,975.2 1086.2,989 1072.4,1002.8 1058.6,989" fill="#7f00ff" stroke="#000" stroke-width="2.4" stroke-linejoin="miter" fill-opacity="0.6" stroke-opacity="0.66"/>
<polygon points="1091,1045.2 1104.8,1059 1091,1072.8 1077.2,1059" fill="#7f00ff" stroke="#000" stroke-width="2.4" stroke-linejoin="miter" fill-opacity="0.6" stroke-opacity="0.66"/>
<polygon points="1109,1048.8 1122.8,1062.6 1109,1076.4 1095.2,1062.6" fill="#7f00ff" stroke="#000" stroke-width="2.4" stroke-linejoin="miter" fill-opacity="0.6" stroke-opacity="0.66"/>
<polygon points="1128,1063.2 1141.8,1077 1128,1090.8 1114.2,1077" fill="#7f00ff" stroke="#000" stroke-width="2.4" stroke-linejoin="miter" fill-opacity="0.6" stroke-opacity="0.66"/>
<polygon points="1145.6,1074.8 1159.4,1088.6 1145.6,1102.4 1131.8,1088.6" fill="#7f00ff" stroke="#000" stroke-width="2.4" stroke-linejoin="miter" fill-opacity="0.6" stroke-opacity="0.66"/>
<polygon points="1165.4,1082.8 1179.2,1096.6 1165.4,1110.4 1151.6,1096.6" fill="#7f00ff" stroke="#000" stroke-width="2.4" stroke-linejoin="miter" fill-opacity="0.6" stroke-opacity="0.66"/>
<polygon points="1182,1087.2 1195.8,1101 1182,1114.8 1168.2,1101" fill="#7f00ff" stroke="#000" stroke-width="2.4" stroke-linejoin="miter" fill-opacity="0.6" stroke-opacity="0.66"/>
<polygon points="1199.4,970.8 1213.2,984.6 1199.4,998.4 1185.6,984.6" fill="#7f00ff" stroke="#000" stroke-width="2.4" stroke-linejoin="miter" fill-opacity="0.6" stroke-opacity="0.66"/>
<polygon points="1203,990.2 1216.8,1004 1203,1017.8 1189.2,1004" fill="#7f00ff" stroke="#000" stroke-width="2.4" stroke-linejoin="miter" fill-opacity="0.6" stroke-opacity="0.66"/>
<polygon points="1219,1026.8 1232.8,1040.6 1219,1054.4 1205.2,1040.6" fill="#7f00ff" stroke="#000" stroke-width="2.4" stroke-linejoin="miter" fill-opacity="0.6" stroke-opacity="0.66"/>
<polygon points="1255,1044.2 1268.8,1058 1255,1071.8 1241.2,1058" fill="#7f00ff" stroke="#000" stroke-width="2.4" stroke-linejoin="miter" fill-opacity="0.6" stroke-opacity="0.66"/>
<polygon points="1291.6,1079.2 1305.4,1093 1291.6,1106.8 1277.8,1093" fill="#7f00ff" stroke="#000" stroke-width="2.4" stroke-linejoin="miter" fill-opacity="0.6" stroke-opacity="0.66"/>
<polygon points="1328.6,1012.8 1342.4,1026.6 1328.6,1040.4 1314.8,1026.6" fill="#7f00ff" stroke="#000" stroke-width="2.4" stroke-linejoin="miter" fill-opacity="0.6" stroke-opacity="0.66"/>
<polygon points="1382,995.6 1395.8,1009.4 1382,1023.2 1368.2,1009.4" fill="#7f00ff" stroke="#000" stroke-width="2.4" stroke-linejoin="miter" fill-opacity="0.6" stroke-opacity="0.66"/>
<line x1="1044.77" y1="1071.09" x2="1045.23" y2="1070.51" stroke="#ff0026" stroke-width="2.2" stroke-linecap="butt"/>
<line x1="1060.8" y1="1047.36" x2="1064.2" y2="1041.24" stroke="#ff0026" stroke-width="2.2" stroke-linecap="butt"/>
<line x1="1099.59" y1="991.65" x2="1100.81" y2="989.95" stroke="#ff0026" stroke-width="2.2" stroke-linecap="butt"/>
<line x1="1230.71" y1="879.92" x2="1243.29" y2="871.68" stroke="#ff0026" stroke-width="2.2" stroke-linecap="butt"/>
<line x1="1267.09" y1="856.93" x2="1279.51" y2="849.67" stroke="#ff0026" stroke-width="2.2" stroke-linecap="butt"/>
<line x1="1303.69" y1="835.54" x2="1316.51" y2="828.06" stroke="#ff0026" stroke-width="2.2" stroke-linecap="butt"/>
<line x1="1340.96" y1="814.43" x2="1369.64" y2="799.17" stroke="#ff0026" stroke-width="2.2" stroke-linecap="butt"/>
<line x1="1397.2" y1="783.29" x2="1424.4" y2="770.11" stroke="#ff0026" stroke-width="2.2" stroke-linecap="butt"/>
<line x1="1451.45" y1="755.6" x2="1461.55" y2="750.4" stroke="#ff0026" stroke-width="2.2" stroke-linecap="butt"/>
<line x1="1486.85" y1="738.44" x2="1498.15" y2="733.56" stroke="#ff0026" stroke-width="2.2" stroke-linecap="butt"/>
<circle cx="1019.4" cy="1105" r="10.9" fill="#ff0026" stroke="#000" stroke-width="2.2"/>
<circle cx="1027" cy="1094.4" r="10.9" fill="#ff0026" stroke="#000" stroke-width="2.2"/>
<circle cx="1036" cy="1082" r="10.9" fill="#ff0026" stroke="#000" stroke-width="2.2"/>
<circle cx="1054" cy="1059.6" r="10.9" fill="#ff0026" stroke="#000" stroke-width="2.2"/>
<circle cx="1071" cy="1029" r="10.9" fill="#ff0026" stroke="#000" stroke-width="2.2"/>
<circle cx="1072.4" cy="1023" r="10.9" fill="#ff0026" stroke="#000" stroke-width="2.2"/>
<circle cx="1091.4" cy="1003" r="10.9" fill="#ff0026" stroke="#000" stroke-width="2.2"/>
<circle cx="1109" cy="978.6" r="10.9" fill="#ff0026" stroke="#000" stroke-width="2.2"/>
<circle cx="1128" cy="961.6" r="10.9" fill="#ff0026" stroke="#000" stroke-width="2.2"/>
<circle cx="1145.6" cy="943" r="10.9" fill="#ff0026" stroke="#000" stroke-width="2.2"/>
<circle cx="1165.4" cy="928.6" r="10.9" fill="#ff0026" stroke="#000" stroke-width="2.2"/>
<circle cx="1182" cy="918" r="10.9" fill="#ff0026" stroke="#000" stroke-width="2.2"/>
<circle cx="1199.4" cy="902.4" r="10.9" fill="#ff0026" stroke="#000" stroke-width="2.2"/>
<circle cx="1203" cy="896.6" r="10.9" fill="#ff0026" stroke="#000" stroke-width="2.2"/>
<circle cx="1219" cy="887.6" r="10.9" fill="#ff0026" stroke="#000" stroke-width="2.2"/>
<circle cx="1255" cy="864" r="10.9" fill="#ff0026" stroke="#000" stroke-width="2.2"/>
<circle cx="1291.6" cy="842.6" r="10.9" fill="#ff0026" stroke="#000" stroke-width="2.2"/>
<circle cx="1328.6" cy="821" r="10.9" fill="#ff0026" stroke="#000" stroke-width="2.2"/>
<circle cx="1382" cy="792.6" r="10.9" fill="#ff0026" stroke="#000" stroke-width="2.2"/>
<circle cx="1384.6" cy="789.4" r="10.9" fill="#ff0026" stroke="#000" stroke-width="2.2"/>
<circle cx="1437" cy="764" r="10.9" fill="#ff0026" stroke="#000" stroke-width="2.2"/>
<circle cx="1439" cy="762" r="10.9" fill="#ff0026" stroke="#000" stroke-width="2.2"/>
<circle cx="1474" cy="744" r="10.9" fill="#ff0026" stroke="#000" stroke-width="2.2"/>
<circle cx="1511" cy="728" r="10.9" fill="#ff0026" stroke="#000" stroke-width="2.2"/>
<circle cx="1530.8" cy="718.8" r="10.9" fill="#ff0026" stroke="#000" stroke-width="2.2"/>
<line x1="1514.53" y1="722.73" x2="1484.87" y2="732.37" stroke="#ff0026" stroke-width="3.6" stroke-linecap="butt" stroke-dasharray="10 8"/>
<line x1="1456.56" y1="742.29" x2="1346.64" y2="783.71" stroke="#ff0026" stroke-width="3.6" stroke-linecap="butt" stroke-dasharray="10 8"/>
<line x1="1310.25" y1="798" x2="1265.75" y2="817.4" stroke="#ff0026" stroke-width="3.6" stroke-linecap="butt" stroke-dasharray="10 8"/>
<line x1="1238.58" y1="830.11" x2="1211.42" y2="843.69" stroke="#ff0026" stroke-width="3.6" stroke-linecap="butt" stroke-dasharray="10 8"/>
<line x1="1185.22" y1="858.26" x2="1156.78" y2="875.74" stroke="#ff0026" stroke-width="3.6" stroke-linecap="butt" stroke-dasharray="10 8"/>
<line x1="1097.08" y1="922.49" x2="1081.32" y2="939.11" stroke="#ff0026" stroke-width="3.6" stroke-linecap="butt" stroke-dasharray="10 8"/>
<line x1="1063.76" y1="963.14" x2="1046.84" y2="993.86" stroke="#ff0026" stroke-width="3.6" stroke-linecap="butt" stroke-dasharray="10 8"/>
<line x1="1031.64" y1="1041.02" x2="1029.36" y2="1050.98" stroke="#ff0026" stroke-width="3.6" stroke-linecap="butt" stroke-dasharray="10 8"/>
<circle cx="1528.8" cy="718.1" r="10.6" fill="none" stroke="#ff0026" stroke-width="4.4"/>
<circle cx="1470.6" cy="737" r="10.6" fill="none" stroke="#ff0026" stroke-width="4.4"/>
<circle cx="1332.6" cy="789" r="10.6" fill="none" stroke="#ff0026" stroke-width="4.4"/>
<circle cx="1324" cy="792" r="10.6" fill="none" stroke="#ff0026" stroke-width="4.4"/>
<circle cx="1252" cy="823.4" r="10.6" fill="none" stroke="#ff0026" stroke-width="4.4"/>
<circle cx="1198" cy="850.4" r="10.6" fill="none" stroke="#ff0026" stroke-width="4.4"/>
<circle cx="1144" cy="883.6" r="10.6" fill="none" stroke="#ff0026" stroke-width="4.4"/>
<circle cx="1125" cy="896" r="10.6" fill="none" stroke="#ff0026" stroke-width="4.4"/>
<circle cx="1107.4" cy="911.6" r="10.6" fill="none" stroke="#ff0026" stroke-width="4.4"/>
<circle cx="1071" cy="950" r="10.6" fill="none" stroke="#ff0026" stroke-width="4.4"/>
<circle cx="1039.6" cy="1007" r="10.6" fill="none" stroke="#ff0026" stroke-width="4.4"/>
<circle cx="1035" cy="1026.4" r="10.6" fill="none" stroke="#ff0026" stroke-width="4.4"/>
<circle cx="1026" cy="1065.6" r="10.6" fill="none" stroke="#ff0026" stroke-width="4.4"/>
<line x1="1021.68" y1="708.23" x2="1024.32" y2="692.77" stroke="#7f00ff" stroke-width="3.8" stroke-linecap="butt"/>
<line x1="1029" y1="692.88" x2="1034" y2="732.72" stroke="#7f00ff" stroke-width="3.8" stroke-linecap="butt"/>
<line x1="1038.27" y1="764.44" x2="1051.73" y2="858.16" stroke="#7f00ff" stroke-width="3.8" stroke-linecap="butt"/>
<line x1="1071.18" y1="877.6" x2="1072.22" y2="973" stroke="#7f00ff" stroke-width="3.8" stroke-linecap="butt"/>
<line x1="1076.51" y1="1004.46" x2="1086.89" y2="1043.54" stroke="#7f00ff" stroke-width="3.8" stroke-linecap="butt"/>
<line x1="1184.37" y1="1085.18" x2="1197.03" y2="1000.42" stroke="#7f00ff" stroke-width="3.8" stroke-linecap="butt"/>
<line x1="1209.41" y1="1018.66" x2="1212.59" y2="1025.94" stroke="#7f00ff" stroke-width="3.8" stroke-linecap="butt"/>
<line x1="1233.41" y1="1047.56" x2="1240.59" y2="1051.04" stroke="#7f00ff" stroke-width="3.8" stroke-linecap="butt"/>
<line x1="1266.56" y1="1069.06" x2="1280.04" y2="1081.94" stroke="#7f00ff" stroke-width="3.8" stroke-linecap="butt"/>
<line x1="1299.39" y1="1079.02" x2="1320.81" y2="1040.58" stroke="#7f00ff" stroke-width="3.8" stroke-linecap="butt"/>
<line x1="1343.83" y1="1021.69" x2="1366.77" y2="1014.31" stroke="#7f00ff" stroke-width="3.8" stroke-linecap="butt"/>
<line x1="1513.61" y1="957.15" x2="1484.39" y2="976.25" stroke="#7f00ff" stroke-width="3.8" stroke-linecap="butt" stroke-dasharray="10 8"/>
<line x1="1456.09" y1="990.82" x2="1347.51" y2="1033.18" stroke="#7f00ff" stroke-width="3.8" stroke-linecap="butt" stroke-dasharray="10 8"/>
<line x1="1309.11" y1="1056.27" x2="1267.29" y2="1043.33" stroke="#7f00ff" stroke-width="3.8" stroke-linecap="butt" stroke-dasharray="10 8"/>
<line x1="1236.1" y1="1040.35" x2="1213.3" y2="1042.85" stroke="#7f00ff" stroke-width="3.8" stroke-linecap="butt" stroke-dasharray="10 8"/>
<line x1="1184.89" y1="1034.62" x2="1156.51" y2="1011.98" stroke="#7f00ff" stroke-width="3.8" stroke-linecap="butt" stroke-dasharray="10 8"/>
<line x1="1122.11" y1="1017.74" x2="1110.29" y2="1082.26" stroke="#7f00ff" stroke-width="3.8" stroke-linecap="butt" stroke-dasharray="10 8"/>
<line x1="1102.82" y1="1082.67" x2="1075.98" y2="992.73" stroke="#7f00ff" stroke-width="3.8" stroke-linecap="butt" stroke-dasharray="10 8"/>
<line x1="1062.27" y1="964.26" x2="1048.73" y2="944.74" stroke="#7f00ff" stroke-width="3.8" stroke-linecap="butt" stroke-dasharray="10 8"/>
<line x1="1039.03" y1="915.61" x2="1035.57" y2="818.99" stroke="#7f00ff" stroke-width="3.8" stroke-linecap="butt" stroke-dasharray="10 8"/>
<line x1="1107.4" y1="620" x2="1124" y2="620" stroke="#7f00ff" stroke-width="3.8" />
<line x1="1158" y1="620" x2="1174.6" y2="620" stroke="#7f00ff" stroke-width="3.8" />
<polygon points="1141,606.2 1154.8,620 1141,633.8 1127.2,620" fill="#7f00ff" stroke="#000" stroke-width="2.4" stroke-linejoin="miter" fill-opacity="0.6" stroke-opacity="0.66"/>
<line x1="1107.4" y1="654.6" x2="1117" y2="654.6" stroke="#7f00ff" stroke-width="3.8" />
<line x1="1156" y1="654.6" x2="1166" y2="654.6" stroke="#7f00ff" stroke-width="3.8" />
<polygon points="1141,641 1154.6,654.6 1141,668.2 1127.4,654.6" fill="#fff" stroke="#7f00ff" stroke-width="4.25" stroke-linejoin="round" stroke-opacity="0.6"/>
<text transform="translate(1180 629.3) scale(1 1.0)" font-size="28.6" fill="#000" text-anchor="start" stroke="#000" stroke-width="0.3" >DUT-49(Cu) u.c. parameter ads.</text>
<text transform="translate(1180 664.3) scale(1 1.0)" font-size="28.6" fill="#000" text-anchor="start" stroke="#000" stroke-width="0.3" >DUT-49(Cu) u.c. parameter des.</text>
</g>
</svg>
</body>
</html>
